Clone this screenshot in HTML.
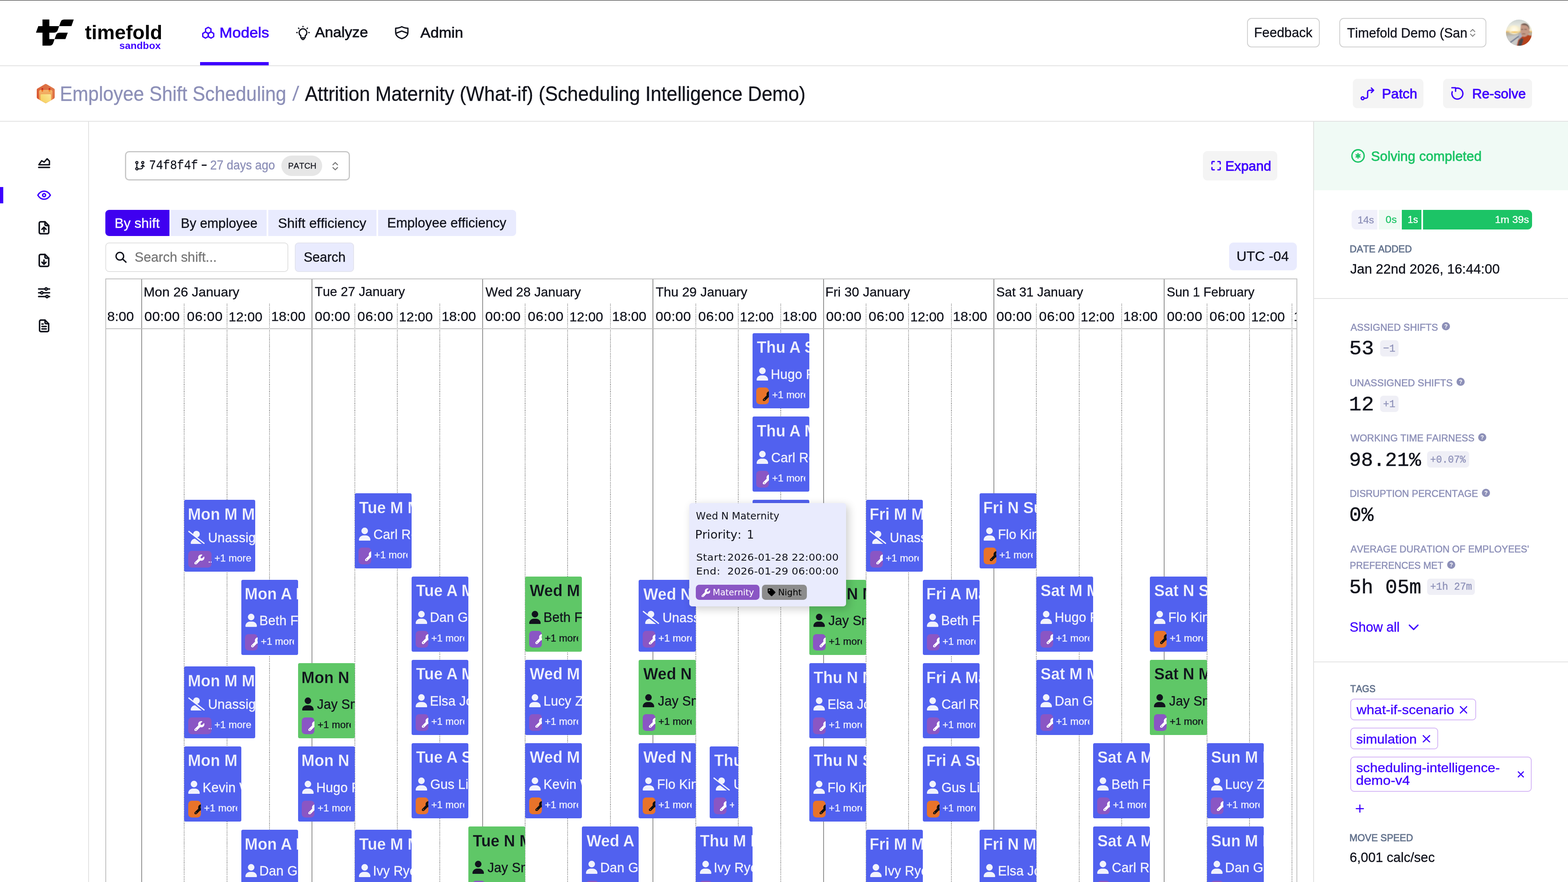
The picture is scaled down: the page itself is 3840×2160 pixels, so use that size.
<!DOCTYPE html>
<html lang="en"><head><meta charset="utf-8"><title>Timefold - Employee Shift Scheduling</title><style>
html,body{margin:0;padding:0}
html{width:3840px;height:2160px;overflow:hidden;background:#fff}
body{width:3840px;height:2160px;overflow:hidden;background:#fff;position:relative;font-family:"Liberation Sans",sans-serif;color:#111}
.b{position:absolute;display:block}
.t{position:absolute;white-space:pre;line-height:1;font-kerning:none}
.nw{font-kerning:normal}
.dot{background:repeating-linear-gradient(to bottom,#8a8a8a 0,#8a8a8a 2.13px,transparent 2.13px,transparent 4.27px)}
</style></head><body>
<div id="root" class="b" style="left:0;top:0;width:3840px;height:2160px;overflow:hidden">
<div class="b" style="left:0px;top:0px;width:3840px;height:1px;background:#000;"></div>
<div class="b" style="left:0px;top:160px;width:3840px;height:2px;background:#e2e2e2;"></div>
<div class="b" style="left:0px;top:296px;width:3840px;height:2px;background:#e2e2e2;"></div>
<div class="b" style="left:216px;top:298px;width:2px;height:1862px;background:#e2e2e2;"></div>
<div class="b" style="left:3216px;top:298px;width:2px;height:1862px;background:#e0e0e0;"></div>
<svg class="b" style="left:0px;top:0px;fill:#000" width="420" height="160" viewBox="0 0 420 160"><path d="M104.05 47.8H120.8V63.9H144.84L141.6 73.2Q139.3 79.9 132.6 79.9H120.8V95.73H133.75L130.3 105.4Q128.1 111.84 121.6 111.84H104.05V79.9H88.08L93.76 63.9H104.05Z"/><path d="M144.84 63.9L148.3 54.2Q150.6 47.8 157.2 47.8H180.6L174.9 63.9Z"/><path d="M133.75 95.73L137.1 86.2Q139.4 79.9 146 79.9H166L160.2 95.73Z"/></svg>
<div class="t" style="left:208.01px;top:54.56px;font-size:48.6px;font-weight:700;color:#000;letter-spacing:0.06px;">timefold</div>
<div class="t" style="left:292.14px;top:99.98px;font-size:24.6px;font-weight:700;color:#3e00ff;letter-spacing:0.08px;">sandbox</div>
<div class="b" style="left:490px;top:152px;width:168px;height:8px;background:#3e00ff;"></div>
<svg class="b" style="left:0px;top:0px;" width="1200" height="160" viewBox="0 0 1200 160"><g fill="none" stroke="#3e00ff" stroke-width="3.2" stroke-linejoin="round"><path d="M510 66.8l6.6 3.8v7.6l-6.6 3.8-6.6-3.8v-7.6z"/><path d="M503.2 79.2l6.6 3.8v7.6l-6.6 3.8-6.6-3.8v-7.6z" transform="translate(0,-1)"/><path d="M516.8 79.2l6.6 3.8v7.6l-6.6 3.8-6.6-3.8v-7.6z" transform="translate(0,-1)"/></g></svg>
<div class="t" style="left:537.61px;top:60.51px;font-size:37.68px;color:#3e00ff;-webkit-text-stroke:1px #3e00ff;transform:scaleY(0.954);transform-origin:0 84.65%;">Models</div>
<svg class="b" style="left:0px;top:0px;" width="1200" height="160" viewBox="0 0 1200 160"><g fill="none" stroke="#11131c" stroke-width="3" stroke-linecap="round" stroke-linejoin="round"><path d="M736.6 87.6a9.4 9.4 0 1 1 10.8 0v3.6a1.6 1.6 0 0 1-1.6 1.6h-7.6a1.6 1.6 0 0 1-1.6-1.6z"/><path d="M738.8 93.2v.6a3.2 3.2 0 0 0 6.4 0v-.6"/><path d="M742 64.4v1.2M731 68.8l1 1M753 68.8l-1 1M726.6 79.8h1.4M756 79.8h1.4"/></g></svg>
<div class="t" style="left:771.13px;top:61.42px;font-size:36.6px;color:#11131c;-webkit-text-stroke:0.9px #11131c;transform:scaleY(0.983);transform-origin:0 84.65%;">Analyze</div>
<svg class="b" style="left:0px;top:0px;" width="1200" height="160" viewBox="0 0 1200 160"><g fill="none" stroke="#11131c" stroke-width="3.2" stroke-linejoin="round" stroke-linecap="round"><path d="M984 65.4c4.6 2.6 9.6 3.6 15 3.8v9.600c0 8-5.800 13.200-15 15.800-9.200-2.600-15-7.800-15-15.800v-9.600c5.400-.2 10.400-1.200 15-3.800z"/><path d="M969.600 81.600l14.400-5.600 14.400 5.600"/></g></svg>
<div class="t" style="left:1029.53px;top:61.08px;font-size:37px;color:#11131c;-webkit-text-stroke:0.9px #11131c;transform:scaleY(0.972);transform-origin:0 84.65%;">Admin</div>
<div class="b" style="left:3054px;top:44px;width:178px;height:72px;background:#fff;border:2px solid #cfcfcf;border-radius:11px;box-sizing:border-box;"></div>
<div class="t" style="left:3071.23px;top:64.47px;font-size:32.52px;color:#11131c;-webkit-text-stroke:0.4px #11131c;transform:scaleY(1.037);transform-origin:0 84.65%;">Feedback</div>
<div class="b" style="left:3280px;top:44px;width:360px;height:72px;background:#fff;border:2px solid #cfcfcf;border-radius:11px;box-sizing:border-box;"></div>
<div class="t" style="left:3298.88px;top:64.79px;font-size:32.15px;color:#11131c;-webkit-text-stroke:0.4px #11131c;transform:scaleY(1.049);transform-origin:0 84.65%;">Timefold Demo (San</div>
<svg class="b" style="left:3597px;top:68.4px;" width="19" height="25" viewBox="0 0 22 30"><path d="M4.600 11.400l6.400-6.400 6.400 6.400M4.600 18.600l6.400 6.400 6.400-6.400" fill="none" stroke="#858585" stroke-width="2.800" stroke-linecap="round" stroke-linejoin="round"/></svg>
<svg class="b" style="left:3688.1px;top:47.8px;" width="64" height="64.2" viewBox="0 0 64 64"><defs><clipPath id="avc"><circle cx="32" cy="32" r="32"/></clipPath><linearGradient id="avs" x1="0" y1="0" x2="0" y2="1"><stop offset="0" stop-color="#c4cccc"/><stop offset=".25" stop-color="#e6e8e0"/><stop offset=".42" stop-color="#f4ecd0"/><stop offset=".47" stop-color="#e9b458"/><stop offset=".5" stop-color="#b9b09a"/><stop offset=".7" stop-color="#bcb9ae"/><stop offset="1" stop-color="#c9cdd2"/></linearGradient><radialGradient id="avn" cx="20" cy="25" r="17" gradientUnits="userSpaceOnUse"><stop offset="0" stop-color="#fffdf2"/><stop offset=".5" stop-color="#fff6d6" stop-opacity=".9"/><stop offset="1" stop-color="#f6e6b0" stop-opacity="0"/></radialGradient><filter id="avb" x="-10%" y="-10%" width="120%" height="120%"><feGaussianBlur stdDeviation="0.9"/></filter></defs><g clip-path="url(#avc)"><g filter="url(#avb)"><rect x="-4" y="-4" width="72" height="72" fill="url(#avs)"/><ellipse cx="20" cy="25" rx="17" ry="11" fill="url(#avn)"/><ellipse cx="21" cy="30.500" rx="9" ry="1.800" fill="#f3c048"/><path d="M0 40l30-4v30H0z" fill="#c9c9c6"/><path d="M2 42l26-5" stroke="#b4b8bc" stroke-width="1.500"/><path d="M10 56.500L33 39.500" stroke="#2c3f74" stroke-width="2"/><path d="M31 38l5-6 6 2v10l-10 3z" fill="#a9b1c4"/><path d="M26 66l4-16 10-9 12-4 14 3v26z" fill="#b5431f"/><path d="M29 66l3-14 6-7 5 3-2 8-4 10z" fill="#4b4a48"/><path d="M36.500 12c3-3.500 10-4.500 15-1.500 4.500 2.800 6.500 8 6 14l-1.500 7c-1 5-4.500 9.500-10 10.500-5 .5-8.500-3-9.500-8-.8-4-1-8-.8-11.500.2-4 .8-7.500.800-10.500z" fill="#c59a86"/><path d="M36.500 13c3-4 10-5 15-2 4.500 2.800 6.800 8 6.200 14-2-5-4-9-8-10.500-4.500-1.500-9-1-13.200-1.500z" fill="#6f5c52"/><path d="M36.800 24.500c2-1 4-1 5.500-.2M45 24.300c2-1 4.500-.8 6 .2" stroke="#4a3a34" stroke-width="1.300" fill="none"/><path d="M39.500 35.500c2.500-1.200 5.500-1.200 8 0" stroke="#7a5a4c" stroke-width="1.600" fill="none"/><path d="M56 27c2-.5 3 1.500 2.500 4-.5 2-1.500 3-2.800 3z" fill="#c08f7c"/></g></g></svg>
<svg class="b" style="left:90px;top:204.9px;" width="44" height="48.1" viewBox="0 0 44 47.900"><defs><linearGradient id="hg" x1="1" y1="0" x2="0" y2="1"><stop offset="0" stop-color="#e07e4e"/><stop offset=".5" stop-color="#dc6a40"/><stop offset="1" stop-color="#d74a26"/></linearGradient><linearGradient id="hc" x1="0" y1="0" x2="0" y2="1"><stop offset="0" stop-color="#f4b86c"/><stop offset=".35" stop-color="#f0a058"/><stop offset="1" stop-color="#ef8840"/></linearGradient><linearGradient id="hp" x1="1" y1="0" x2="0" y2="1"><stop offset="0" stop-color="#fbe896"/><stop offset="1" stop-color="#f4c84e"/></linearGradient><clipPath id="hx"><path d="M20.200 1a3.600 3.600 0 0 1 3.600 0l18.400 10.700a3.600 3.600 0 0 1 1.800 3.100v18.400a3.600 3.600 0 0 1-1.800 3.100l-18.400 10.700a3.600 3.600 0 0 1-3.600 0l-18.400-10.700a3.600 3.600 0 0 1-1.800-3.100v-18.400a3.600 3.600 0 0 1 1.800-3.100z"/></clipPath></defs><path d="M20.200 1a3.600 3.600 0 0 1 3.600 0l18.400 10.700a3.600 3.600 0 0 1 1.800 3.100v18.400a3.600 3.600 0 0 1-1.800 3.100l-18.400 10.700a3.600 3.600 0 0 1-3.600 0l-18.400-10.700a3.600 3.600 0 0 1-1.800-3.100v-18.400a3.600 3.600 0 0 1 1.800-3.100z" fill="url(#hg)"/><g clip-path="url(#hx)"><rect x="5.500" y="15.100" width="32.900" height="40" rx="4.200" fill="url(#hc)"/><rect x="9.300" y="25.600" width="25.600" height="30" rx="2.200" fill="url(#hp)"/></g><path d="M11.600 15.100v-2.600a2.100 2.100 0 0 1 4.200 0v2.600zM29.100 15.100v-2.600a2.100 2.100 0 0 1 4.200 0v2.600z" fill="#c82d1c"/><path d="M11.600 15.100v2.400a2.100 2.100 0 0 0 4.200 0v-2.400z" fill="#f2701f"/><path d="M29.100 15.100v2.400a2.100 2.100 0 0 0 4.200 0v-2.400z" fill="#f28a22"/></svg>
<div class="t" style="left:146.49px;top:207.91px;font-size:46.42px;color:#8d90b8;-webkit-text-stroke:0.4px #8d90b8;transform:scaleY(1.065);transform-origin:0 84.65%;">Employee Shift Scheduling</div>
<div class="t" style="left:715.8px;top:207.47px;font-size:46.93px;color:#8d90b8;-webkit-text-stroke:0.4px #8d90b8;transform:scaleY(1.054);transform-origin:0 84.65%;transform:scaleY(1.05) skewX(-6deg);">/</div>
<div class="t" style="left:746.71px;top:207.38px;font-size:47.04px;color:#11131c;-webkit-text-stroke:0.4px #11131c;transform:scaleY(1.051);transform-origin:0 84.65%;">Attrition Maternity (What-if) (Scheduling Intelligence Demo)</div>
<div class="b" style="left:3313.3px;top:192.8px;width:172.6px;height:72.1px;background:#f4f4f4;border-radius:11px;"></div>
<svg class="b" style="left:3330px;top:210px;" width="40" height="40" viewBox="0 0 40 40"><g fill="none" stroke="#3e00ff" stroke-width="3.300" stroke-linecap="round" stroke-linejoin="round"><circle cx="7.100" cy="30.600" r="3.500"/><path d="M10.800 30.600h4.200a4.300 4.300 0 0 0 4.300-4.300v-10.900a4.300 4.300 0 0 1 4.300-4.300h9.500"/><path d="M28.400 5.600l5.600 5.500-5.600 5.500"/></g></svg>
<div class="t" style="left:3384.22px;top:212.91px;font-size:33.9px;color:#3e00ff;-webkit-text-stroke:1px #3e00ff;transform:scaleY(0.995);transform-origin:0 84.65%;">Patch</div>
<div class="b" style="left:3533.9px;top:192.8px;width:218px;height:72.1px;background:#f4f4f4;border-radius:11px;"></div>
<svg class="b" style="left:3552px;top:211px;" width="36" height="36" viewBox="0 0 36 36"><g fill="none" stroke="#3e00ff" stroke-width="3.300" stroke-linecap="round" stroke-linejoin="round"><path d="M12.600 5.600a13.400 13.400 0 1 1-8.100 8.100"/><path d="M3.600 3.900h9.100v8.600"/></g></svg>
<div class="t" style="left:3605.27px;top:213.41px;font-size:33.3px;color:#3e00ff;-webkit-text-stroke:1px #3e00ff;transform:scaleY(1.012);transform-origin:0 84.65%;">Re-solve</div>
<div class="b" style="left:0px;top:458px;width:8px;height:40px;background:#3e00ff;"></div>
<svg class="b" style="left:91px;top:381.6px;" width="34" height="34" viewBox="0 0 24 24"><g fill="none" stroke="#11131c" stroke-width="2.400" stroke-linecap="round" stroke-linejoin="round"><path d="M3 15.200L7.800 8.200l4.200 2.400L17.200 4.800l4 4v6.400z"/><path d="M2.600 19.800h18.800"/></g></svg>
<svg class="b" style="left:91px;top:461px;" width="34" height="34" viewBox="0 0 24 24"><g fill="none" stroke="#3e00ff" stroke-width="2.400" stroke-linecap="round" stroke-linejoin="round"><path d="M1.200 12C3.800 7.400 7.600 5 12 5s8.200 2.400 10.800 7C20.200 16.600 16.400 19 12 19S3.800 16.600 1.200 12z"/><circle cx="12" cy="12" r="2.600"/></g></svg>
<svg class="b" style="left:89.25px;top:538.95px;" width="37.5" height="37.5" viewBox="0 0 24 24"><g fill="none" stroke="#11131c" stroke-width="2.400" stroke-linecap="round" stroke-linejoin="round"><path d="M13.500 2.600H6.800a2.200 2.200 0 0 0-2.200 2.200v14.400a2.200 2.200 0 0 0 2.200 2.200h10.400a2.200 2.200 0 0 0 2.200-2.200V8.500z"/><path d="M13.500 2.600v4.200a1.700 1.700 0 0 0 1.700 1.700h4.200"/><path d="M12 18v-6.500M8.800 14.400l3.200-3.200 3.200 3.200"/></g></svg>
<svg class="b" style="left:89.25px;top:619.25px;" width="37.5" height="37.5" viewBox="0 0 24 24"><g fill="none" stroke="#11131c" stroke-width="2.400" stroke-linecap="round" stroke-linejoin="round"><path d="M13.500 2.600H6.800a2.200 2.200 0 0 0-2.200 2.200v14.400a2.200 2.200 0 0 0 2.200 2.200h10.400a2.200 2.200 0 0 0 2.200-2.200V8.500z"/><path d="M13.500 2.600v4.200a1.700 1.700 0 0 0 1.700 1.700h4.200"/><path d="M12 11.500V18M8.800 14.800l3.200 3.200 3.200-3.200"/></g></svg>
<svg class="b" style="left:91px;top:700px;" width="34" height="34" viewBox="0 0 24 24"><g fill="none" stroke="#11131c" stroke-width="2.400" stroke-linecap="round" stroke-linejoin="round"><path d="M2.500 5.500h19M2.500 12h19M2.500 18.500h19"/><circle cx="15.500" cy="5.500" r="2" fill="#fff"/><circle cx="8" cy="12" r="2" fill="#fff"/><circle cx="17" cy="18.500" r="2" fill="#fff"/></g></svg>
<svg class="b" style="left:90px;top:780px;" width="36" height="36" viewBox="0 0 24 24"><g fill="none" stroke="#11131c" stroke-width="2.400" stroke-linecap="round" stroke-linejoin="round"><path d="M13.500 2.600H6.800a2.200 2.200 0 0 0-2.200 2.200v14.400a2.200 2.200 0 0 0 2.200 2.200h10.400a2.200 2.200 0 0 0 2.200-2.200V8.500z"/><path d="M13.500 2.600v4.200a1.700 1.700 0 0 0 1.700 1.700h4.200"/><path d="M8.500 9h2M8.500 13h7M8.500 17h7"/></g></svg>
<div class="b" style="left:306.3px;top:370.3px;width:550.3px;height:71.6px;background:#fff;border:3.700px solid #c8c8c8;border-radius:10px;box-sizing:border-box;"></div>
<svg class="b" style="left:330px;top:393.3px;" width="25.5" height="25.5" viewBox="0 0 28 28"><g fill="none" stroke="#11131c" stroke-width="2.800" stroke-linecap="round" stroke-linejoin="round"><circle cx="5.600" cy="5.600" r="2.900"/><circle cx="5.600" cy="22.400" r="2.900"/><circle cx="21.500" cy="5.600" r="2.900"/><path d="M5.600 8.500v11M8.500 22.400h8.500a4.500 4.500 0 0 0 4.500-4.500v-5M17.500 16l4-4 4 4"/></g></svg>
<div class="t" style="left:365px;top:392.6px;font-size:28.57px;font-family:'Liberation Mono',monospace;color:#11131c;-webkit-text-stroke:0.3px #11131c;transform:scaleY(1.074);transform-origin:0 76.65%;">74f8f4f</div>
<div class="b" style="left:494.4px;top:403.4px;width:11.2px;height:3px;background:#11131c;"></div>
<div class="t" style="left:514.84px;top:390.55px;font-size:29.12px;color:#8d90b8;-webkit-text-stroke:0.4px #8d90b8;transform:scaleY(1.081);transform-origin:0 84.65%;">27 days ago</div>
<div class="b" style="left:689px;top:381.4px;width:99.8px;height:49.3px;background:#e6e6e6;border-radius:25px;"></div>
<div class="t" style="left:705.53px;top:395.73px;font-size:20.4px;color:#11131c;-webkit-text-stroke:0.3px #11131c;transform:scaleY(1.023);transform-origin:0 84.65%;">PATCH</div>
<svg class="b" style="left:811px;top:393.5px;" width="20" height="26.5" viewBox="0 0 22 30"><path d="M4.600 11l6.400-6.400 6.400 6.400M4.600 18.400l6.400 6.400 6.400-6.400" fill="none" stroke="#777" stroke-width="2.800" stroke-linecap="round" stroke-linejoin="round"/></svg>
<div class="b" style="left:2946.1px;top:370.3px;width:181.9px;height:71.6px;background:#f4f4f4;border-radius:11px;"></div>
<svg class="b" style="left:2965.7px;top:394.2px;" width="24.3" height="23.6" viewBox="0 0 24 24"><path d="M1.700 7.500v-3.500a2.300 2.300 0 0 1 2.300-2.300h3.500M16.500 1.700h3.500a2.300 2.300 0 0 1 2.300 2.300v3.500M22.300 16.500v3.500a2.300 2.300 0 0 1-2.300 2.300h-3.500M7.500 22.300h-3.500a2.300 2.300 0 0 1-2.300-2.300v-3.500" fill="none" stroke="#3e00ff" stroke-width="3.200" stroke-linecap="round"/></svg>
<div class="t" style="left:3000.78px;top:390.16px;font-size:33.13px;color:#3e00ff;-webkit-text-stroke:1px #3e00ff;transform:scaleY(1.018);transform-origin:0 84.65%;">Expand</div>
<div class="b" style="left:257.9px;top:513.9px;width:157px;height:64.1px;background:#3f00f0;border-radius:9px 0 0 9px;"></div>
<div class="t" style="left:280.43px;top:529.54px;font-size:33.74px;color:#fff;-webkit-text-stroke:0.4px #fff;">By shift</div>
<div class="b" style="left:418.9px;top:513.9px;width:234px;height:64.1px;background:#e9ebfe;"></div>
<div class="t" style="left:442.73px;top:530.57px;font-size:32.52px;color:#11131c;-webkit-text-stroke:0.4px #11131c;transform:scaleY(1.037);transform-origin:0 84.65%;">By employee</div>
<div class="b" style="left:656.9px;top:513.9px;width:265.1px;height:64.1px;background:#e9ebfe;"></div>
<div class="t" style="left:680.68px;top:529.68px;font-size:33.58px;color:#11131c;-webkit-text-stroke:0.4px #11131c;transform:scaleY(1.004);transform-origin:0 84.65%;">Shift efficiency</div>
<div class="b" style="left:926.2px;top:513.9px;width:337.9px;height:64.1px;background:#e9ebfe;border-radius:0 9px 9px 0;"></div>
<div class="t" style="left:948.31px;top:530.33px;font-size:32.81px;color:#11131c;-webkit-text-stroke:0.4px #11131c;transform:scaleY(1.028);transform-origin:0 84.65%;">Employee efficiency</div>
<div class="b" style="left:258px;top:594px;width:447.5px;height:72px;background:#fff;border:2px solid #e1e1e1;border-radius:9px;box-sizing:border-box;"></div>
<svg class="b" style="left:282px;top:616px;" width="29" height="28" viewBox="0 0 29 28"><g fill="none" stroke="#11131c" stroke-width="3.200" stroke-linecap="round"><circle cx="11.500" cy="11.500" r="9.300"/><path d="M18.500 18.500l8 7.500"/></g></svg>
<div class="t" style="left:329.7px;top:614.03px;font-size:32.93px;color:#777;-webkit-text-stroke:0.4px #777;transform:scaleY(1.024);transform-origin:0 84.65%;">Search shift...</div>
<div class="b" style="left:722px;top:594px;width:145px;height:72px;background:#e9ebfe;border:2px solid #e3e4ee;border-radius:9px;box-sizing:border-box;"></div>
<div class="t" style="left:743.63px;top:614.47px;font-size:32.41px;color:#11131c;-webkit-text-stroke:0.4px #11131c;transform:scaleY(1.04);transform-origin:0 84.65%;">Search</div>
<div class="b" style="left:3009.9px;top:593.9px;width:166.2px;height:67.8px;background:#e9ebfe;border-radius:11px;"></div>
<div class="t" style="left:3028.18px;top:611.4px;font-size:33.91px;color:#11131c;-webkit-text-stroke:0.4px #11131c;transform:scaleY(0.994);transform-origin:0 84.65%;">UTC -04</div>
<div class="b" style="left:258.4px;top:681.9px;width:2918.2px;height:1478.1px;background:#fff;border:2px solid #bfbfbf;box-sizing:border-box;overflow:hidden;border-bottom:0;"><div class="b" style="left:-1px;top:-1px"><div class="b" style="left:86.7px;top:0px;width:2px;height:1480px;background:#8e8e8e;"></div><div class="b dot" style="left:191.04px;top:61.6px;width:2px;height:1420px;"></div><div class="b dot" style="left:295.38px;top:61.6px;width:2px;height:1420px;"></div><div class="b dot" style="left:399.72px;top:61.6px;width:2px;height:1420px;"></div><div class="b" style="left:504.06px;top:0px;width:2px;height:1480px;background:#8e8e8e;"></div><div class="b dot" style="left:608.4px;top:61.6px;width:2px;height:1420px;"></div><div class="b dot" style="left:712.74px;top:61.6px;width:2px;height:1420px;"></div><div class="b dot" style="left:817.08px;top:61.6px;width:2px;height:1420px;"></div><div class="b" style="left:921.42px;top:0px;width:2px;height:1480px;background:#8e8e8e;"></div><div class="b dot" style="left:1025.76px;top:61.6px;width:2px;height:1420px;"></div><div class="b dot" style="left:1130.1px;top:61.6px;width:2px;height:1420px;"></div><div class="b dot" style="left:1234.44px;top:61.6px;width:2px;height:1420px;"></div><div class="b" style="left:1338.78px;top:0px;width:2px;height:1480px;background:#8e8e8e;"></div><div class="b dot" style="left:1443.12px;top:61.6px;width:2px;height:1420px;"></div><div class="b dot" style="left:1547.46px;top:61.6px;width:2px;height:1420px;"></div><div class="b dot" style="left:1651.8px;top:61.6px;width:2px;height:1420px;"></div><div class="b" style="left:1756.14px;top:0px;width:2px;height:1480px;background:#8e8e8e;"></div><div class="b dot" style="left:1860.48px;top:61.6px;width:2px;height:1420px;"></div><div class="b dot" style="left:1964.82px;top:61.6px;width:2px;height:1420px;"></div><div class="b dot" style="left:2069.16px;top:61.6px;width:2px;height:1420px;"></div><div class="b" style="left:2173.5px;top:0px;width:2px;height:1480px;background:#8e8e8e;"></div><div class="b dot" style="left:2277.84px;top:61.6px;width:2px;height:1420px;"></div><div class="b dot" style="left:2382.18px;top:61.6px;width:2px;height:1420px;"></div><div class="b dot" style="left:2486.52px;top:61.6px;width:2px;height:1420px;"></div><div class="b" style="left:2590.86px;top:0px;width:2px;height:1480px;background:#8e8e8e;"></div><div class="b dot" style="left:2695.2px;top:61.6px;width:2px;height:1420px;"></div><div class="b dot" style="left:2799.54px;top:61.6px;width:2px;height:1420px;"></div><div class="b dot" style="left:2903.88px;top:61.6px;width:2px;height:1420px;"></div><div class="b" style="left:0px;top:120.7px;width:2920px;height:2px;background:#bfbfbf;"></div><div class="b" style="left:4.2px;top:67.1px;width:110px;height:50px;overflow:hidden;"><div class="t" style="left:-19.91px;top:8.29px;font-size:33.68px;color:#11131c;-webkit-text-stroke:0.4px #11131c;transform:scaleY(0.934);transform-origin:0 84.65%;">18:00</div></div><div class="t" style="left:92.32px;top:15.71px;font-size:32.71px;color:#11131c;-webkit-text-stroke:0.4px #11131c;transform:scaleY(0.962);transform-origin:0 84.65%;">Mon 26 January</div><div class="t" style="left:94.08px;top:75.25px;font-size:33.84px;color:#11131c;letter-spacing:0.49px;-webkit-text-stroke:0.4px #11131c;transform:scaleY(0.93);transform-origin:0 84.65%;">00:00</div><div class="t" style="left:198.42px;top:75.25px;font-size:33.84px;color:#11131c;letter-spacing:0.66px;-webkit-text-stroke:0.4px #11131c;transform:scaleY(0.93);transform-origin:0 84.65%;">06:00</div><div class="t" style="left:300.36px;top:75.89px;font-size:33.09px;color:#11131c;-webkit-text-stroke:0.4px #11131c;transform:scaleY(0.951);transform-origin:0 84.65%;">12:00</div><div class="t" style="left:404.65px;top:75.39px;font-size:33.68px;color:#11131c;-webkit-text-stroke:0.4px #11131c;transform:scaleY(0.934);transform-origin:0 84.65%;">18:00</div><div class="t" style="left:511.65px;top:16.53px;font-size:31.74px;color:#11131c;-webkit-text-stroke:0.4px #11131c;transform:scaleY(0.991);transform-origin:0 84.65%;">Tue 27 January</div><div class="t" style="left:511.44px;top:75.25px;font-size:33.84px;color:#11131c;letter-spacing:0.49px;-webkit-text-stroke:0.4px #11131c;transform:scaleY(0.93);transform-origin:0 84.65%;">00:00</div><div class="t" style="left:615.78px;top:75.25px;font-size:33.84px;color:#11131c;letter-spacing:0.66px;-webkit-text-stroke:0.4px #11131c;transform:scaleY(0.93);transform-origin:0 84.65%;">06:00</div><div class="t" style="left:717.72px;top:75.89px;font-size:33.09px;color:#11131c;-webkit-text-stroke:0.4px #11131c;transform:scaleY(0.951);transform-origin:0 84.65%;">12:00</div><div class="t" style="left:822.01px;top:75.39px;font-size:33.68px;color:#11131c;-webkit-text-stroke:0.4px #11131c;transform:scaleY(0.934);transform-origin:0 84.65%;">18:00</div><div class="t" style="left:929.58px;top:16.23px;font-size:32.09px;color:#11131c;-webkit-text-stroke:0.4px #11131c;transform:scaleY(0.981);transform-origin:0 84.65%;">Wed 28 January</div><div class="t" style="left:928.8px;top:75.25px;font-size:33.84px;color:#11131c;letter-spacing:0.49px;-webkit-text-stroke:0.4px #11131c;transform:scaleY(0.93);transform-origin:0 84.65%;">00:00</div><div class="t" style="left:1033.14px;top:75.25px;font-size:33.84px;color:#11131c;letter-spacing:0.66px;-webkit-text-stroke:0.4px #11131c;transform:scaleY(0.93);transform-origin:0 84.65%;">06:00</div><div class="t" style="left:1135.08px;top:75.89px;font-size:33.09px;color:#11131c;-webkit-text-stroke:0.4px #11131c;transform:scaleY(0.951);transform-origin:0 84.65%;">12:00</div><div class="t" style="left:1239.37px;top:75.39px;font-size:33.68px;color:#11131c;-webkit-text-stroke:0.4px #11131c;transform:scaleY(0.934);transform-origin:0 84.65%;">18:00</div><div class="t" style="left:1346.35px;top:16.04px;font-size:32.32px;color:#11131c;-webkit-text-stroke:0.4px #11131c;transform:scaleY(0.974);transform-origin:0 84.65%;">Thu 29 January</div><div class="t" style="left:1346.16px;top:75.25px;font-size:33.84px;color:#11131c;letter-spacing:0.49px;-webkit-text-stroke:0.4px #11131c;transform:scaleY(0.93);transform-origin:0 84.65%;">00:00</div><div class="t" style="left:1450.5px;top:75.25px;font-size:33.84px;color:#11131c;letter-spacing:0.66px;-webkit-text-stroke:0.4px #11131c;transform:scaleY(0.93);transform-origin:0 84.65%;">06:00</div><div class="t" style="left:1552.44px;top:75.89px;font-size:33.09px;color:#11131c;-webkit-text-stroke:0.4px #11131c;transform:scaleY(0.951);transform-origin:0 84.65%;">12:00</div><div class="t" style="left:1656.73px;top:75.39px;font-size:33.68px;color:#11131c;-webkit-text-stroke:0.4px #11131c;transform:scaleY(0.934);transform-origin:0 84.65%;">18:00</div><div class="t" style="left:1761.78px;top:15.9px;font-size:32.48px;color:#11131c;-webkit-text-stroke:0.4px #11131c;transform:scaleY(0.969);transform-origin:0 84.65%;">Fri 30 January</div><div class="t" style="left:1763.52px;top:75.25px;font-size:33.84px;color:#11131c;letter-spacing:0.49px;-webkit-text-stroke:0.4px #11131c;transform:scaleY(0.93);transform-origin:0 84.65%;">00:00</div><div class="t" style="left:1867.86px;top:75.25px;font-size:33.84px;color:#11131c;letter-spacing:0.66px;-webkit-text-stroke:0.4px #11131c;transform:scaleY(0.93);transform-origin:0 84.65%;">06:00</div><div class="t" style="left:1969.8px;top:75.89px;font-size:33.09px;color:#11131c;-webkit-text-stroke:0.4px #11131c;transform:scaleY(0.951);transform-origin:0 84.65%;">12:00</div><div class="t" style="left:2074.09px;top:75.39px;font-size:33.68px;color:#11131c;-webkit-text-stroke:0.4px #11131c;transform:scaleY(0.934);transform-origin:0 84.65%;">18:00</div><div class="t" style="left:2180.36px;top:16.62px;font-size:31.64px;color:#11131c;-webkit-text-stroke:0.4px #11131c;transform:scaleY(0.995);transform-origin:0 84.65%;">Sat 31 January</div><div class="t" style="left:2180.88px;top:75.25px;font-size:33.84px;color:#11131c;letter-spacing:0.49px;-webkit-text-stroke:0.4px #11131c;transform:scaleY(0.93);transform-origin:0 84.65%;">00:00</div><div class="t" style="left:2285.22px;top:75.25px;font-size:33.84px;color:#11131c;letter-spacing:0.66px;-webkit-text-stroke:0.4px #11131c;transform:scaleY(0.93);transform-origin:0 84.65%;">06:00</div><div class="t" style="left:2387.16px;top:75.89px;font-size:33.09px;color:#11131c;-webkit-text-stroke:0.4px #11131c;transform:scaleY(0.951);transform-origin:0 84.65%;">12:00</div><div class="t" style="left:2491.45px;top:75.39px;font-size:33.68px;color:#11131c;-webkit-text-stroke:0.4px #11131c;transform:scaleY(0.934);transform-origin:0 84.65%;">18:00</div><div class="t" style="left:2597.74px;top:17px;font-size:31.19px;color:#11131c;-webkit-text-stroke:0.4px #11131c;transform:scaleY(1.009);transform-origin:0 84.65%;">Sun 1 February</div><div class="t" style="left:2598.24px;top:75.25px;font-size:33.84px;color:#11131c;letter-spacing:0.49px;-webkit-text-stroke:0.4px #11131c;transform:scaleY(0.93);transform-origin:0 84.65%;">00:00</div><div class="t" style="left:2702.58px;top:75.25px;font-size:33.84px;color:#11131c;letter-spacing:0.66px;-webkit-text-stroke:0.4px #11131c;transform:scaleY(0.93);transform-origin:0 84.65%;">06:00</div><div class="t" style="left:2804.52px;top:75.89px;font-size:33.09px;color:#11131c;-webkit-text-stroke:0.4px #11131c;transform:scaleY(0.951);transform-origin:0 84.65%;">12:00</div><div class="t" style="left:2908.81px;top:75.39px;font-size:33.68px;color:#11131c;-webkit-text-stroke:0.4px #11131c;transform:scaleY(0.934);transform-origin:0 84.65%;">18:00</div><div class="b" style="left:192.04px;top:541.4px;width:173.9px;height:176px;background:#5161ef;border-radius:4px;overflow:hidden;"><div class="t nw" style="left:8.63px;top:16.49px;font-size:38.4px;font-weight:700;color:#f1f2fc;-webkit-text-stroke:0.35px #5161ef;transform:scaleY(1.054);transform-origin:0 84.65%;">Mon M Maternity</div><svg class="b" style="left:9.2px;top:75.6px;fill:#f1f2fc" width="40.4" height="32.3" viewBox="0 0 640 512"><path d="M38.8 5.1C28.4-3.1 13.3-1.2 5.1 9.2S-1.2 34.7 9.2 42.9l592 464c10.4 8.2 25.5 6.3 33.7-4.1s6.3-25.5-4.1-33.7L353.3 251.6C407.9 237 448 187.2 448 128C448 57.3 390.7 0 320 0C250.2 0 193.5 55.8 192 125.2L38.8 5.1zM264.3 304.3C170.5 309.4 96 387.2 96 482.3c0 16.4 13.3 29.7 29.7 29.7H514.3c3.9 0 7.6-.7 11-2.1l-261-205.6z"/></svg><div class="t nw" style="left:58.13px;top:76.71px;font-size:32px;color:#f1f2fc;letter-spacing:0.2px;-webkit-text-stroke:0.4px #f1f2fc;transform:scaleY(1.054);transform-origin:0 84.65%;">Unassigned</div><div class="b" style="left:9.7px;top:124.9px;width:154.5px;height:41px;overflow:hidden;"><div class="b" style="left:0px;top:0px;width:56.5px;height:40.8px;background:#8a56c4;border-radius:8.5px;overflow:hidden;"><svg class="b" style="left:15.2px;top:8.7px;fill:#fff" width="24.6" height="24.5" viewBox="0 0 512 512"><path d="M352 320c88.4 0 160-71.6 160-160c0-15.3-2.2-30.1-6.2-44.2c-3.1-10.8-16.4-13.2-24.3-5.3l-76.8 76.8c-3 3-7.1 4.7-11.3 4.7H336c-8.8 0-16-7.2-16-16V118.6c0-4.2 1.7-8.3 4.7-11.3l76.8-76.8c7.9-7.9 5.4-21.2-5.3-24.3C382.1 2.2 367.3 0 352 0C263.6 0 192 71.6 192 160c0 19.1 3.4 37.5 9.5 54.5L19.9 396.1C7.2 408.8 0 426.1 0 444.1C0 481.6 30.4 512 67.9 512c18 0 35.3-7.2 48-19.9L297.5 310.5c17 6.2 35.4 9.5 54.5 9.5zM80 408a24 24 0 1 1 0 48 24 24 0 1 1 0-48z"/></svg><div class="b" style="left:49.6px;top:25.7px;width:3.4px;height:3.4px;background:#fff;border-radius:2px;"></div><div class="b" style="left:55.2px;top:25.7px;width:3.4px;height:3.4px;background:#fff;border-radius:2px;"></div></div><div class="t nw" style="left:63.9px;top:6.05px;font-size:24.51px;color:#f1f2fc;-webkit-text-stroke:0.4px #f1f2fc;transform:scaleY(1.009);transform-origin:0 84.65%;">+1 more</div></div></div><div class="b" style="left:331.16px;top:736.8px;width:139.12px;height:184.2px;background:#5161ef;border-radius:4px;overflow:hidden;"><div class="t nw" style="left:8.63px;top:16.49px;font-size:38.4px;font-weight:700;color:#f1f2fc;-webkit-text-stroke:0.35px #5161ef;transform:scaleY(1.054);transform-origin:0 84.65%;">Mon A Maternity</div><svg class="b" style="left:10px;top:83.8px;fill:#f1f2fc" width="28.2" height="32.3" viewBox="0 0 448 512"><path d="M224 256A128 128 0 1 0 224 0a128 128 0 1 0 0 256zm-45.7 48C79.8 304 0 383.8 0 482.3C0 498.7 13.3 512 29.7 512H418.3c16.4 0 29.7-13.3 29.7-29.7C448 383.8 368.2 304 269.7 304H178.3z"/></svg><div class="t nw" style="left:44.77px;top:84.71px;font-size:32px;color:#f1f2fc;letter-spacing:0.2px;-webkit-text-stroke:0.4px #f1f2fc;transform:scaleY(1.054);transform-origin:0 84.65%;">Beth Fox</div><div class="b" style="left:9.7px;top:133px;width:119.72px;height:41px;overflow:hidden;"><div class="b" style="left:0px;top:0px;width:31px;height:40.8px;background:#8a56c4;border-radius:8.5px;overflow:hidden;"><svg class="b" style="left:15.2px;top:8.7px;fill:#fff" width="24.6" height="24.5" viewBox="0 0 512 512"><path d="M352 320c88.4 0 160-71.6 160-160c0-15.3-2.2-30.1-6.2-44.2c-3.1-10.8-16.4-13.2-24.3-5.3l-76.8 76.8c-3 3-7.1 4.7-11.3 4.7H336c-8.8 0-16-7.2-16-16V118.6c0-4.2 1.7-8.3 4.7-11.3l76.8-76.8c7.9-7.9 5.4-21.2-5.3-24.3C382.1 2.2 367.3 0 352 0C263.6 0 192 71.6 192 160c0 19.1 3.4 37.5 9.5 54.5L19.9 396.1C7.2 408.8 0 426.1 0 444.1C0 481.6 30.4 512 67.9 512c18 0 35.3-7.2 48-19.9L297.5 310.5c17 6.2 35.4 9.5 54.5 9.5zM80 408a24 24 0 1 1 0 48 24 24 0 1 1 0-48z"/></svg></div><div class="t nw" style="left:38.4px;top:6.05px;font-size:24.51px;color:#f1f2fc;-webkit-text-stroke:0.4px #f1f2fc;transform:scaleY(1.009);transform-origin:0 84.65%;">+1 more</div></div></div><div class="b" style="left:192.04px;top:949.4px;width:173.9px;height:176px;background:#5161ef;border-radius:4px;overflow:hidden;"><div class="t nw" style="left:8.63px;top:16.49px;font-size:38.4px;font-weight:700;color:#f1f2fc;-webkit-text-stroke:0.35px #5161ef;transform:scaleY(1.054);transform-origin:0 84.65%;">Mon M Maternity</div><svg class="b" style="left:9.2px;top:75.6px;fill:#f1f2fc" width="40.4" height="32.3" viewBox="0 0 640 512"><path d="M38.8 5.1C28.4-3.1 13.3-1.2 5.1 9.2S-1.2 34.7 9.2 42.9l592 464c10.4 8.2 25.5 6.3 33.7-4.1s6.3-25.5-4.1-33.7L353.3 251.6C407.9 237 448 187.2 448 128C448 57.3 390.7 0 320 0C250.2 0 193.5 55.8 192 125.2L38.8 5.1zM264.3 304.3C170.5 309.4 96 387.2 96 482.3c0 16.4 13.3 29.7 29.7 29.7H514.3c3.9 0 7.6-.7 11-2.1l-261-205.6z"/></svg><div class="t nw" style="left:58.13px;top:76.71px;font-size:32px;color:#f1f2fc;letter-spacing:0.2px;-webkit-text-stroke:0.4px #f1f2fc;transform:scaleY(1.054);transform-origin:0 84.65%;">Unassigned</div><div class="b" style="left:9.7px;top:124.9px;width:154.5px;height:41px;overflow:hidden;"><div class="b" style="left:0px;top:0px;width:56.5px;height:40.8px;background:#8a56c4;border-radius:8.5px;overflow:hidden;"><svg class="b" style="left:15.2px;top:8.7px;fill:#fff" width="24.6" height="24.5" viewBox="0 0 512 512"><path d="M352 320c88.4 0 160-71.6 160-160c0-15.3-2.2-30.1-6.2-44.2c-3.1-10.8-16.4-13.2-24.3-5.3l-76.8 76.8c-3 3-7.1 4.7-11.3 4.7H336c-8.8 0-16-7.2-16-16V118.6c0-4.2 1.7-8.3 4.7-11.3l76.8-76.8c7.9-7.9 5.4-21.2-5.3-24.3C382.1 2.2 367.3 0 352 0C263.6 0 192 71.6 192 160c0 19.1 3.4 37.5 9.5 54.5L19.9 396.1C7.2 408.8 0 426.1 0 444.1C0 481.6 30.4 512 67.9 512c18 0 35.3-7.2 48-19.9L297.5 310.5c17 6.2 35.4 9.5 54.5 9.5zM80 408a24 24 0 1 1 0 48 24 24 0 1 1 0-48z"/></svg><div class="b" style="left:49.6px;top:25.7px;width:3.4px;height:3.4px;background:#fff;border-radius:2px;"></div><div class="b" style="left:55.2px;top:25.7px;width:3.4px;height:3.4px;background:#fff;border-radius:2px;"></div></div><div class="t nw" style="left:63.9px;top:6.05px;font-size:24.51px;color:#f1f2fc;-webkit-text-stroke:0.4px #f1f2fc;transform:scaleY(1.009);transform-origin:0 84.65%;">+1 more</div></div></div><div class="b" style="left:470.28px;top:941.4px;width:139.12px;height:184.2px;background:#5fc767;border-radius:4px;overflow:hidden;"><div class="t nw" style="left:8.63px;top:16.49px;font-size:38.4px;font-weight:700;color:#11131c;-webkit-text-stroke:0.35px #5fc767;transform:scaleY(1.054);transform-origin:0 84.65%;">Mon N Maternity</div><svg class="b" style="left:10px;top:83.8px;fill:#11131c" width="28.2" height="32.3" viewBox="0 0 448 512"><path d="M224 256A128 128 0 1 0 224 0a128 128 0 1 0 0 256zm-45.7 48C79.8 304 0 383.8 0 482.3C0 498.7 13.3 512 29.7 512H418.3c16.4 0 29.7-13.3 29.7-29.7C448 383.8 368.2 304 269.7 304H178.3z"/></svg><div class="t nw" style="left:46.9px;top:84.71px;font-size:32px;color:#11131c;letter-spacing:0.2px;-webkit-text-stroke:0.4px #11131c;transform:scaleY(1.054);transform-origin:0 84.65%;">Jay Smith</div><div class="b" style="left:9.7px;top:133px;width:119.72px;height:41px;overflow:hidden;"><div class="b" style="left:0px;top:0px;width:31px;height:40.8px;background:#8a56c4;border-radius:8.5px;overflow:hidden;"><svg class="b" style="left:15.2px;top:8.7px;fill:#fff" width="24.6" height="24.5" viewBox="0 0 512 512"><path d="M352 320c88.4 0 160-71.6 160-160c0-15.3-2.2-30.1-6.2-44.2c-3.1-10.8-16.4-13.2-24.3-5.3l-76.8 76.8c-3 3-7.1 4.7-11.3 4.7H336c-8.8 0-16-7.2-16-16V118.6c0-4.2 1.7-8.3 4.7-11.3l76.8-76.8c7.9-7.9 5.4-21.2-5.3-24.3C382.1 2.2 367.3 0 352 0C263.6 0 192 71.6 192 160c0 19.1 3.4 37.5 9.5 54.5L19.9 396.1C7.2 408.8 0 426.1 0 444.1C0 481.6 30.4 512 67.9 512c18 0 35.3-7.2 48-19.9L297.5 310.5c17 6.2 35.4 9.5 54.5 9.5zM80 408a24 24 0 1 1 0 48 24 24 0 1 1 0-48z"/></svg></div><div class="t nw" style="left:38.4px;top:6.05px;font-size:24.51px;color:#11131c;-webkit-text-stroke:0.4px #11131c;transform:scaleY(1.009);transform-origin:0 84.65%;">+1 more</div></div></div><div class="b" style="left:192.04px;top:1145.1px;width:139.12px;height:184.2px;background:#5161ef;border-radius:4px;overflow:hidden;"><div class="t nw" style="left:8.63px;top:16.49px;font-size:38.4px;font-weight:700;color:#f1f2fc;-webkit-text-stroke:0.35px #5161ef;transform:scaleY(1.054);transform-origin:0 84.65%;">Mon M Surgery</div><svg class="b" style="left:10px;top:83.8px;fill:#f1f2fc" width="28.2" height="32.3" viewBox="0 0 448 512"><path d="M224 256A128 128 0 1 0 224 0a128 128 0 1 0 0 256zm-45.7 48C79.8 304 0 383.8 0 482.3C0 498.7 13.3 512 29.7 512H418.3c16.4 0 29.7-13.3 29.7-29.7C448 383.8 368.2 304 269.7 304H178.3z"/></svg><div class="t nw" style="left:44.77px;top:84.71px;font-size:32px;color:#f1f2fc;letter-spacing:0.2px;-webkit-text-stroke:0.4px #f1f2fc;transform:scaleY(1.054);transform-origin:0 84.65%;">Kevin Watt</div><div class="b" style="left:9.7px;top:133px;width:119.72px;height:41px;overflow:hidden;"><div class="b" style="left:0px;top:0px;width:31px;height:40.8px;background:#e8732a;border-radius:8.5px;overflow:hidden;"><svg class="b" style="left:15.2px;top:8.7px;fill:#111" width="24.6" height="24.5" viewBox="0 0 512 512"><path d="M352 320c88.4 0 160-71.6 160-160c0-15.3-2.2-30.1-6.2-44.2c-3.1-10.8-16.4-13.2-24.3-5.3l-76.8 76.8c-3 3-7.1 4.7-11.3 4.7H336c-8.8 0-16-7.2-16-16V118.6c0-4.2 1.7-8.3 4.7-11.3l76.8-76.8c7.9-7.9 5.4-21.2-5.3-24.3C382.1 2.2 367.3 0 352 0C263.6 0 192 71.6 192 160c0 19.1 3.4 37.5 9.5 54.5L19.9 396.1C7.2 408.8 0 426.1 0 444.1C0 481.6 30.4 512 67.9 512c18 0 35.3-7.2 48-19.9L297.5 310.5c17 6.2 35.4 9.5 54.5 9.5zM80 408a24 24 0 1 1 0 48 24 24 0 1 1 0-48z"/></svg></div><div class="t nw" style="left:38.4px;top:6.05px;font-size:24.51px;color:#f1f2fc;-webkit-text-stroke:0.4px #f1f2fc;transform:scaleY(1.009);transform-origin:0 84.65%;">+1 more</div></div></div><div class="b" style="left:470.28px;top:1145.1px;width:139.12px;height:184.2px;background:#5161ef;border-radius:4px;overflow:hidden;"><div class="t nw" style="left:8.63px;top:16.49px;font-size:38.4px;font-weight:700;color:#f1f2fc;-webkit-text-stroke:0.35px #5161ef;transform:scaleY(1.054);transform-origin:0 84.65%;">Mon N Maternity</div><svg class="b" style="left:10px;top:83.8px;fill:#f1f2fc" width="28.2" height="32.3" viewBox="0 0 448 512"><path d="M224 256A128 128 0 1 0 224 0a128 128 0 1 0 0 256zm-45.7 48C79.8 304 0 383.8 0 482.3C0 498.7 13.3 512 29.7 512H418.3c16.4 0 29.7-13.3 29.7-29.7C448 383.8 368.2 304 269.7 304H178.3z"/></svg><div class="t nw" style="left:44.77px;top:84.71px;font-size:32px;color:#f1f2fc;letter-spacing:0.2px;-webkit-text-stroke:0.4px #f1f2fc;transform:scaleY(1.054);transform-origin:0 84.65%;">Hugo Rye</div><div class="b" style="left:9.7px;top:133px;width:119.72px;height:41px;overflow:hidden;"><div class="b" style="left:0px;top:0px;width:31px;height:40.8px;background:#8a56c4;border-radius:8.5px;overflow:hidden;"><svg class="b" style="left:15.2px;top:8.7px;fill:#fff" width="24.6" height="24.5" viewBox="0 0 512 512"><path d="M352 320c88.4 0 160-71.6 160-160c0-15.3-2.2-30.1-6.2-44.2c-3.1-10.8-16.4-13.2-24.3-5.3l-76.8 76.8c-3 3-7.1 4.7-11.3 4.7H336c-8.8 0-16-7.2-16-16V118.6c0-4.2 1.7-8.3 4.7-11.3l76.8-76.8c7.9-7.9 5.4-21.2-5.3-24.3C382.1 2.2 367.3 0 352 0C263.6 0 192 71.6 192 160c0 19.1 3.4 37.5 9.5 54.5L19.9 396.1C7.2 408.8 0 426.1 0 444.1C0 481.6 30.4 512 67.9 512c18 0 35.3-7.2 48-19.9L297.5 310.5c17 6.2 35.4 9.5 54.5 9.5zM80 408a24 24 0 1 1 0 48 24 24 0 1 1 0-48z"/></svg></div><div class="t nw" style="left:38.4px;top:6.05px;font-size:24.51px;color:#f1f2fc;-webkit-text-stroke:0.4px #f1f2fc;transform:scaleY(1.009);transform-origin:0 84.65%;">+1 more</div></div></div><div class="b" style="left:331.16px;top:1349.4px;width:139.12px;height:184.2px;background:#5161ef;border-radius:4px;overflow:hidden;"><div class="t nw" style="left:8.63px;top:16.49px;font-size:38.4px;font-weight:700;color:#f1f2fc;-webkit-text-stroke:0.35px #5161ef;transform:scaleY(1.054);transform-origin:0 84.65%;">Mon A Maternity</div><svg class="b" style="left:10px;top:83.8px;fill:#f1f2fc" width="28.2" height="32.3" viewBox="0 0 448 512"><path d="M224 256A128 128 0 1 0 224 0a128 128 0 1 0 0 256zm-45.7 48C79.8 304 0 383.8 0 482.3C0 498.7 13.3 512 29.7 512H418.3c16.4 0 29.7-13.3 29.7-29.7C448 383.8 368.2 304 269.7 304H178.3z"/></svg><div class="t nw" style="left:44.77px;top:84.71px;font-size:32px;color:#f1f2fc;letter-spacing:0.2px;-webkit-text-stroke:0.4px #f1f2fc;transform:scaleY(1.054);transform-origin:0 84.65%;">Dan Green</div><div class="b" style="left:9.7px;top:133px;width:119.72px;height:41px;overflow:hidden;"><div class="b" style="left:0px;top:0px;width:31px;height:40.8px;background:#8a56c4;border-radius:8.5px;overflow:hidden;"><svg class="b" style="left:15.2px;top:8.7px;fill:#fff" width="24.6" height="24.5" viewBox="0 0 512 512"><path d="M352 320c88.4 0 160-71.6 160-160c0-15.3-2.2-30.1-6.2-44.2c-3.1-10.8-16.4-13.2-24.3-5.3l-76.8 76.8c-3 3-7.1 4.7-11.3 4.7H336c-8.8 0-16-7.2-16-16V118.6c0-4.2 1.7-8.3 4.7-11.3l76.8-76.8c7.9-7.9 5.4-21.2-5.3-24.3C382.1 2.2 367.3 0 352 0C263.6 0 192 71.6 192 160c0 19.1 3.4 37.5 9.5 54.5L19.9 396.1C7.2 408.8 0 426.1 0 444.1C0 481.6 30.4 512 67.9 512c18 0 35.3-7.2 48-19.9L297.5 310.5c17 6.2 35.4 9.5 54.5 9.5zM80 408a24 24 0 1 1 0 48 24 24 0 1 1 0-48z"/></svg></div><div class="t nw" style="left:38.4px;top:6.05px;font-size:24.51px;color:#f1f2fc;-webkit-text-stroke:0.4px #f1f2fc;transform:scaleY(1.009);transform-origin:0 84.65%;">+1 more</div></div></div><div class="b" style="left:609.4px;top:525.3px;width:139.12px;height:184.2px;background:#5161ef;border-radius:4px;overflow:hidden;"><div class="t nw" style="left:10.77px;top:16.49px;font-size:38.4px;font-weight:700;color:#f1f2fc;-webkit-text-stroke:0.35px #5161ef;transform:scaleY(1.054);transform-origin:0 84.65%;">Tue M Maternity</div><svg class="b" style="left:10px;top:83.8px;fill:#f1f2fc" width="28.2" height="32.3" viewBox="0 0 448 512"><path d="M224 256A128 128 0 1 0 224 0a128 128 0 1 0 0 256zm-45.7 48C79.8 304 0 383.8 0 482.3C0 498.7 13.3 512 29.7 512H418.3c16.4 0 29.7-13.3 29.7-29.7C448 383.8 368.2 304 269.7 304H178.3z"/></svg><div class="t nw" style="left:45.77px;top:84.71px;font-size:32px;color:#f1f2fc;letter-spacing:0.2px;-webkit-text-stroke:0.4px #f1f2fc;transform:scaleY(1.054);transform-origin:0 84.65%;">Carl Rose</div><div class="b" style="left:9.7px;top:133px;width:119.72px;height:41px;overflow:hidden;"><div class="b" style="left:0px;top:0px;width:31px;height:40.8px;background:#8a56c4;border-radius:8.5px;overflow:hidden;"><svg class="b" style="left:15.2px;top:8.7px;fill:#fff" width="24.6" height="24.5" viewBox="0 0 512 512"><path d="M352 320c88.4 0 160-71.6 160-160c0-15.3-2.2-30.1-6.2-44.2c-3.1-10.8-16.4-13.2-24.3-5.3l-76.8 76.8c-3 3-7.1 4.7-11.3 4.7H336c-8.8 0-16-7.2-16-16V118.6c0-4.2 1.7-8.3 4.7-11.3l76.8-76.8c7.9-7.9 5.4-21.2-5.3-24.3C382.1 2.2 367.3 0 352 0C263.6 0 192 71.6 192 160c0 19.1 3.4 37.5 9.5 54.5L19.9 396.1C7.2 408.8 0 426.1 0 444.1C0 481.6 30.4 512 67.9 512c18 0 35.3-7.2 48-19.9L297.5 310.5c17 6.2 35.4 9.5 54.5 9.5zM80 408a24 24 0 1 1 0 48 24 24 0 1 1 0-48z"/></svg></div><div class="t nw" style="left:38.4px;top:6.05px;font-size:24.51px;color:#f1f2fc;-webkit-text-stroke:0.4px #f1f2fc;transform:scaleY(1.009);transform-origin:0 84.65%;">+1 more</div></div></div><div class="b" style="left:748.52px;top:728.9px;width:139.12px;height:184.2px;background:#5161ef;border-radius:4px;overflow:hidden;"><div class="t nw" style="left:10.77px;top:16.49px;font-size:38.4px;font-weight:700;color:#f1f2fc;-webkit-text-stroke:0.35px #5161ef;transform:scaleY(1.054);transform-origin:0 84.65%;">Tue A Maternity</div><svg class="b" style="left:10px;top:83.8px;fill:#f1f2fc" width="28.2" height="32.3" viewBox="0 0 448 512"><path d="M224 256A128 128 0 1 0 224 0a128 128 0 1 0 0 256zm-45.7 48C79.8 304 0 383.8 0 482.3C0 498.7 13.3 512 29.7 512H418.3c16.4 0 29.7-13.3 29.7-29.7C448 383.8 368.2 304 269.7 304H178.3z"/></svg><div class="t nw" style="left:44.77px;top:84.71px;font-size:32px;color:#f1f2fc;letter-spacing:0.2px;-webkit-text-stroke:0.4px #f1f2fc;transform:scaleY(1.054);transform-origin:0 84.65%;">Dan Green</div><div class="b" style="left:9.7px;top:133px;width:119.72px;height:41px;overflow:hidden;"><div class="b" style="left:0px;top:0px;width:31px;height:40.8px;background:#8a56c4;border-radius:8.5px;overflow:hidden;"><svg class="b" style="left:15.2px;top:8.7px;fill:#fff" width="24.6" height="24.5" viewBox="0 0 512 512"><path d="M352 320c88.4 0 160-71.6 160-160c0-15.3-2.2-30.1-6.2-44.2c-3.1-10.8-16.4-13.2-24.3-5.3l-76.8 76.8c-3 3-7.1 4.7-11.3 4.7H336c-8.8 0-16-7.2-16-16V118.6c0-4.2 1.7-8.3 4.7-11.3l76.8-76.8c7.9-7.9 5.4-21.2-5.3-24.3C382.1 2.2 367.3 0 352 0C263.6 0 192 71.6 192 160c0 19.1 3.4 37.5 9.5 54.5L19.9 396.1C7.2 408.8 0 426.1 0 444.1C0 481.6 30.4 512 67.9 512c18 0 35.3-7.2 48-19.9L297.5 310.5c17 6.2 35.4 9.5 54.5 9.5zM80 408a24 24 0 1 1 0 48 24 24 0 1 1 0-48z"/></svg></div><div class="t nw" style="left:38.4px;top:6.05px;font-size:24.51px;color:#f1f2fc;-webkit-text-stroke:0.4px #f1f2fc;transform:scaleY(1.009);transform-origin:0 84.65%;">+1 more</div></div></div><div class="b" style="left:748.52px;top:933px;width:139.12px;height:184.2px;background:#5161ef;border-radius:4px;overflow:hidden;"><div class="t nw" style="left:10.77px;top:16.49px;font-size:38.4px;font-weight:700;color:#f1f2fc;-webkit-text-stroke:0.35px #5161ef;transform:scaleY(1.054);transform-origin:0 84.65%;">Tue A Maternity</div><svg class="b" style="left:10px;top:83.8px;fill:#f1f2fc" width="28.2" height="32.3" viewBox="0 0 448 512"><path d="M224 256A128 128 0 1 0 224 0a128 128 0 1 0 0 256zm-45.7 48C79.8 304 0 383.8 0 482.3C0 498.7 13.3 512 29.7 512H418.3c16.4 0 29.7-13.3 29.7-29.7C448 383.8 368.2 304 269.7 304H178.3z"/></svg><div class="t nw" style="left:44.77px;top:84.71px;font-size:32px;color:#f1f2fc;letter-spacing:0.2px;-webkit-text-stroke:0.4px #f1f2fc;transform:scaleY(1.054);transform-origin:0 84.65%;">Elsa Jones</div><div class="b" style="left:9.7px;top:133px;width:119.72px;height:41px;overflow:hidden;"><div class="b" style="left:0px;top:0px;width:31px;height:40.8px;background:#8a56c4;border-radius:8.5px;overflow:hidden;"><svg class="b" style="left:15.2px;top:8.7px;fill:#fff" width="24.6" height="24.5" viewBox="0 0 512 512"><path d="M352 320c88.4 0 160-71.6 160-160c0-15.3-2.2-30.1-6.2-44.2c-3.1-10.8-16.4-13.2-24.3-5.3l-76.8 76.8c-3 3-7.1 4.7-11.3 4.7H336c-8.8 0-16-7.2-16-16V118.6c0-4.2 1.7-8.3 4.7-11.3l76.8-76.8c7.9-7.9 5.4-21.2-5.3-24.3C382.1 2.2 367.3 0 352 0C263.6 0 192 71.6 192 160c0 19.1 3.4 37.5 9.5 54.5L19.9 396.1C7.2 408.8 0 426.1 0 444.1C0 481.6 30.4 512 67.9 512c18 0 35.3-7.2 48-19.9L297.5 310.5c17 6.2 35.4 9.5 54.5 9.5zM80 408a24 24 0 1 1 0 48 24 24 0 1 1 0-48z"/></svg></div><div class="t nw" style="left:38.4px;top:6.05px;font-size:24.51px;color:#f1f2fc;-webkit-text-stroke:0.4px #f1f2fc;transform:scaleY(1.009);transform-origin:0 84.65%;">+1 more</div></div></div><div class="b" style="left:748.52px;top:1137.1px;width:139.12px;height:184.2px;background:#5161ef;border-radius:4px;overflow:hidden;"><div class="t nw" style="left:10.77px;top:16.49px;font-size:38.4px;font-weight:700;color:#f1f2fc;-webkit-text-stroke:0.35px #5161ef;transform:scaleY(1.054);transform-origin:0 84.65%;">Tue A Surgery</div><svg class="b" style="left:10px;top:83.8px;fill:#f1f2fc" width="28.2" height="32.3" viewBox="0 0 448 512"><path d="M224 256A128 128 0 1 0 224 0a128 128 0 1 0 0 256zm-45.7 48C79.8 304 0 383.8 0 482.3C0 498.7 13.3 512 29.7 512H418.3c16.4 0 29.7-13.3 29.7-29.7C448 383.8 368.2 304 269.7 304H178.3z"/></svg><div class="t nw" style="left:45.79px;top:84.71px;font-size:32px;color:#f1f2fc;letter-spacing:0.2px;-webkit-text-stroke:0.4px #f1f2fc;transform:scaleY(1.054);transform-origin:0 84.65%;">Gus Li</div><div class="b" style="left:9.7px;top:133px;width:119.72px;height:41px;overflow:hidden;"><div class="b" style="left:0px;top:0px;width:31px;height:40.8px;background:#e8732a;border-radius:8.5px;overflow:hidden;"><svg class="b" style="left:15.2px;top:8.7px;fill:#111" width="24.6" height="24.5" viewBox="0 0 512 512"><path d="M352 320c88.4 0 160-71.6 160-160c0-15.3-2.2-30.1-6.2-44.2c-3.1-10.8-16.4-13.2-24.3-5.3l-76.8 76.8c-3 3-7.1 4.7-11.3 4.7H336c-8.8 0-16-7.2-16-16V118.6c0-4.2 1.7-8.3 4.7-11.3l76.8-76.8c7.9-7.9 5.4-21.2-5.3-24.3C382.1 2.2 367.3 0 352 0C263.6 0 192 71.6 192 160c0 19.1 3.4 37.5 9.5 54.5L19.9 396.1C7.2 408.8 0 426.1 0 444.1C0 481.6 30.4 512 67.9 512c18 0 35.3-7.2 48-19.9L297.5 310.5c17 6.2 35.4 9.5 54.5 9.5zM80 408a24 24 0 1 1 0 48 24 24 0 1 1 0-48z"/></svg></div><div class="t nw" style="left:38.4px;top:6.05px;font-size:24.51px;color:#f1f2fc;-webkit-text-stroke:0.4px #f1f2fc;transform:scaleY(1.009);transform-origin:0 84.65%;">+1 more</div></div></div><div class="b" style="left:609.4px;top:1349.4px;width:139.12px;height:184.2px;background:#5161ef;border-radius:4px;overflow:hidden;"><div class="t nw" style="left:10.77px;top:16.49px;font-size:38.4px;font-weight:700;color:#f1f2fc;-webkit-text-stroke:0.35px #5161ef;transform:scaleY(1.054);transform-origin:0 84.65%;">Tue M Maternity</div><svg class="b" style="left:10px;top:83.8px;fill:#f1f2fc" width="28.2" height="32.3" viewBox="0 0 448 512"><path d="M224 256A128 128 0 1 0 224 0a128 128 0 1 0 0 256zm-45.7 48C79.8 304 0 383.8 0 482.3C0 498.7 13.3 512 29.7 512H418.3c16.4 0 29.7-13.3 29.7-29.7C448 383.8 368.2 304 269.7 304H178.3z"/></svg><div class="t nw" style="left:44.45px;top:84.71px;font-size:32px;color:#f1f2fc;letter-spacing:0.2px;-webkit-text-stroke:0.4px #f1f2fc;transform:scaleY(1.054);transform-origin:0 84.65%;">Ivy Rye</div><div class="b" style="left:9.7px;top:133px;width:119.72px;height:41px;overflow:hidden;"><div class="b" style="left:0px;top:0px;width:31px;height:40.8px;background:#8a56c4;border-radius:8.5px;overflow:hidden;"><svg class="b" style="left:15.2px;top:8.7px;fill:#fff" width="24.6" height="24.5" viewBox="0 0 512 512"><path d="M352 320c88.4 0 160-71.6 160-160c0-15.3-2.2-30.1-6.2-44.2c-3.1-10.8-16.4-13.2-24.3-5.3l-76.8 76.8c-3 3-7.1 4.7-11.3 4.7H336c-8.8 0-16-7.2-16-16V118.6c0-4.2 1.7-8.3 4.7-11.3l76.8-76.8c7.9-7.9 5.4-21.2-5.3-24.3C382.1 2.2 367.3 0 352 0C263.6 0 192 71.6 192 160c0 19.1 3.4 37.5 9.5 54.5L19.9 396.1C7.2 408.8 0 426.1 0 444.1C0 481.6 30.4 512 67.9 512c18 0 35.3-7.2 48-19.9L297.5 310.5c17 6.2 35.4 9.5 54.5 9.5zM80 408a24 24 0 1 1 0 48 24 24 0 1 1 0-48z"/></svg></div><div class="t nw" style="left:38.4px;top:6.05px;font-size:24.51px;color:#f1f2fc;-webkit-text-stroke:0.4px #f1f2fc;transform:scaleY(1.009);transform-origin:0 84.65%;">+1 more</div></div></div><div class="b" style="left:887.64px;top:1341.4px;width:139.12px;height:184.2px;background:#5fc767;border-radius:4px;overflow:hidden;"><div class="t nw" style="left:10.77px;top:16.49px;font-size:38.4px;font-weight:700;color:#11131c;-webkit-text-stroke:0.35px #5fc767;transform:scaleY(1.054);transform-origin:0 84.65%;">Tue N Maternity</div><svg class="b" style="left:10px;top:83.8px;fill:#11131c" width="28.2" height="32.3" viewBox="0 0 448 512"><path d="M224 256A128 128 0 1 0 224 0a128 128 0 1 0 0 256zm-45.7 48C79.8 304 0 383.8 0 482.3C0 498.7 13.3 512 29.7 512H418.3c16.4 0 29.7-13.3 29.7-29.7C448 383.8 368.2 304 269.7 304H178.3z"/></svg><div class="t nw" style="left:46.9px;top:84.71px;font-size:32px;color:#11131c;letter-spacing:0.2px;-webkit-text-stroke:0.4px #11131c;transform:scaleY(1.054);transform-origin:0 84.65%;">Jay Smith</div><div class="b" style="left:9.7px;top:133px;width:119.72px;height:41px;overflow:hidden;"><div class="b" style="left:0px;top:0px;width:31px;height:40.8px;background:#8a56c4;border-radius:8.5px;overflow:hidden;"><svg class="b" style="left:15.2px;top:8.7px;fill:#fff" width="24.6" height="24.5" viewBox="0 0 512 512"><path d="M352 320c88.4 0 160-71.6 160-160c0-15.3-2.2-30.1-6.2-44.2c-3.1-10.8-16.4-13.2-24.3-5.3l-76.8 76.8c-3 3-7.1 4.7-11.3 4.7H336c-8.8 0-16-7.2-16-16V118.6c0-4.2 1.7-8.3 4.7-11.3l76.8-76.8c7.9-7.9 5.4-21.2-5.3-24.3C382.1 2.2 367.3 0 352 0C263.6 0 192 71.6 192 160c0 19.1 3.4 37.5 9.5 54.5L19.9 396.1C7.2 408.8 0 426.1 0 444.1C0 481.6 30.4 512 67.9 512c18 0 35.3-7.2 48-19.9L297.5 310.5c17 6.2 35.4 9.5 54.5 9.5zM80 408a24 24 0 1 1 0 48 24 24 0 1 1 0-48z"/></svg></div><div class="t nw" style="left:38.4px;top:6.05px;font-size:24.51px;color:#11131c;-webkit-text-stroke:0.4px #11131c;transform:scaleY(1.009);transform-origin:0 84.65%;">+1 more</div></div></div><div class="b" style="left:1026.76px;top:728.9px;width:139.12px;height:184.2px;background:#5fc767;border-radius:4px;overflow:hidden;"><div class="t nw" style="left:11.16px;top:16.49px;font-size:38.4px;font-weight:700;color:#11131c;-webkit-text-stroke:0.35px #5fc767;transform:scaleY(1.054);transform-origin:0 84.65%;">Wed M Maternity</div><svg class="b" style="left:10px;top:83.8px;fill:#11131c" width="28.2" height="32.3" viewBox="0 0 448 512"><path d="M224 256A128 128 0 1 0 224 0a128 128 0 1 0 0 256zm-45.7 48C79.8 304 0 383.8 0 482.3C0 498.7 13.3 512 29.7 512H418.3c16.4 0 29.7-13.3 29.7-29.7C448 383.8 368.2 304 269.7 304H178.3z"/></svg><div class="t nw" style="left:44.77px;top:84.71px;font-size:32px;color:#11131c;letter-spacing:0.2px;-webkit-text-stroke:0.4px #11131c;transform:scaleY(1.054);transform-origin:0 84.65%;">Beth Fox</div><div class="b" style="left:9.7px;top:133px;width:119.72px;height:41px;overflow:hidden;"><div class="b" style="left:0px;top:0px;width:31px;height:40.8px;background:#8a56c4;border-radius:8.5px;overflow:hidden;"><svg class="b" style="left:15.2px;top:8.7px;fill:#fff" width="24.6" height="24.5" viewBox="0 0 512 512"><path d="M352 320c88.4 0 160-71.6 160-160c0-15.3-2.2-30.1-6.2-44.2c-3.1-10.8-16.4-13.2-24.3-5.3l-76.8 76.8c-3 3-7.1 4.7-11.3 4.7H336c-8.8 0-16-7.2-16-16V118.6c0-4.2 1.7-8.3 4.7-11.3l76.8-76.8c7.9-7.9 5.4-21.2-5.3-24.3C382.1 2.2 367.3 0 352 0C263.6 0 192 71.6 192 160c0 19.1 3.4 37.5 9.5 54.5L19.9 396.1C7.2 408.8 0 426.1 0 444.1C0 481.6 30.4 512 67.9 512c18 0 35.3-7.2 48-19.9L297.5 310.5c17 6.2 35.4 9.5 54.5 9.5zM80 408a24 24 0 1 1 0 48 24 24 0 1 1 0-48z"/></svg></div><div class="t nw" style="left:38.4px;top:6.05px;font-size:24.51px;color:#11131c;-webkit-text-stroke:0.4px #11131c;transform:scaleY(1.009);transform-origin:0 84.65%;">+1 more</div></div></div><div class="b" style="left:1305px;top:737.3px;width:139.12px;height:176px;background:#5161ef;border-radius:4px;overflow:hidden;"><div class="t nw" style="left:11.16px;top:16.49px;font-size:38.4px;font-weight:700;color:#f1f2fc;-webkit-text-stroke:0.35px #5161ef;transform:scaleY(1.054);transform-origin:0 84.65%;">Wed N Maternity</div><svg class="b" style="left:9.2px;top:75.6px;fill:#f1f2fc" width="40.4" height="32.3" viewBox="0 0 640 512"><path d="M38.8 5.1C28.4-3.1 13.3-1.2 5.1 9.2S-1.2 34.7 9.2 42.9l592 464c10.4 8.2 25.5 6.3 33.7-4.1s6.3-25.5-4.1-33.7L353.3 251.6C407.9 237 448 187.2 448 128C448 57.3 390.7 0 320 0C250.2 0 193.5 55.8 192 125.2L38.8 5.1zM264.3 304.3C170.5 309.4 96 387.2 96 482.3c0 16.4 13.3 29.7 29.7 29.7H514.3c3.9 0 7.6-.7 11-2.1l-261-205.6z"/></svg><div class="t nw" style="left:58.13px;top:76.71px;font-size:32px;color:#f1f2fc;letter-spacing:0.2px;-webkit-text-stroke:0.4px #f1f2fc;transform:scaleY(1.054);transform-origin:0 84.65%;">Unassigned</div><div class="b" style="left:9.7px;top:124.9px;width:119.72px;height:41px;overflow:hidden;"><div class="b" style="left:0px;top:0px;width:31px;height:40.8px;background:#8a56c4;border-radius:8.5px;overflow:hidden;"><svg class="b" style="left:15.2px;top:8.7px;fill:#fff" width="24.6" height="24.5" viewBox="0 0 512 512"><path d="M352 320c88.4 0 160-71.6 160-160c0-15.3-2.2-30.1-6.2-44.2c-3.1-10.8-16.4-13.2-24.3-5.3l-76.8 76.8c-3 3-7.1 4.7-11.3 4.7H336c-8.8 0-16-7.2-16-16V118.6c0-4.2 1.7-8.3 4.7-11.3l76.8-76.8c7.9-7.9 5.4-21.2-5.3-24.3C382.1 2.2 367.3 0 352 0C263.6 0 192 71.6 192 160c0 19.1 3.4 37.5 9.5 54.5L19.9 396.1C7.2 408.8 0 426.1 0 444.1C0 481.6 30.4 512 67.9 512c18 0 35.3-7.2 48-19.9L297.5 310.5c17 6.2 35.4 9.5 54.5 9.5zM80 408a24 24 0 1 1 0 48 24 24 0 1 1 0-48z"/></svg></div><div class="t nw" style="left:38.4px;top:6.05px;font-size:24.51px;color:#f1f2fc;-webkit-text-stroke:0.4px #f1f2fc;transform:scaleY(1.009);transform-origin:0 84.65%;">+1 more</div></div></div><div class="b" style="left:1026.76px;top:933px;width:139.12px;height:184.2px;background:#5161ef;border-radius:4px;overflow:hidden;"><div class="t nw" style="left:11.16px;top:16.49px;font-size:38.4px;font-weight:700;color:#f1f2fc;-webkit-text-stroke:0.35px #5161ef;transform:scaleY(1.054);transform-origin:0 84.65%;">Wed M Maternity</div><svg class="b" style="left:10px;top:83.8px;fill:#f1f2fc" width="28.2" height="32.3" viewBox="0 0 448 512"><path d="M224 256A128 128 0 1 0 224 0a128 128 0 1 0 0 256zm-45.7 48C79.8 304 0 383.8 0 482.3C0 498.7 13.3 512 29.7 512H418.3c16.4 0 29.7-13.3 29.7-29.7C448 383.8 368.2 304 269.7 304H178.3z"/></svg><div class="t nw" style="left:44.77px;top:84.71px;font-size:32px;color:#f1f2fc;letter-spacing:0.2px;-webkit-text-stroke:0.4px #f1f2fc;transform:scaleY(1.054);transform-origin:0 84.65%;">Lucy Zhao</div><div class="b" style="left:9.7px;top:133px;width:119.72px;height:41px;overflow:hidden;"><div class="b" style="left:0px;top:0px;width:31px;height:40.8px;background:#8a56c4;border-radius:8.5px;overflow:hidden;"><svg class="b" style="left:15.2px;top:8.7px;fill:#fff" width="24.6" height="24.5" viewBox="0 0 512 512"><path d="M352 320c88.4 0 160-71.6 160-160c0-15.3-2.2-30.1-6.2-44.2c-3.1-10.8-16.4-13.2-24.3-5.3l-76.8 76.8c-3 3-7.1 4.7-11.3 4.7H336c-8.8 0-16-7.2-16-16V118.6c0-4.2 1.7-8.3 4.7-11.3l76.8-76.8c7.9-7.9 5.4-21.2-5.3-24.3C382.1 2.2 367.3 0 352 0C263.6 0 192 71.6 192 160c0 19.1 3.4 37.5 9.5 54.5L19.9 396.1C7.2 408.8 0 426.1 0 444.1C0 481.6 30.4 512 67.9 512c18 0 35.3-7.2 48-19.9L297.5 310.5c17 6.2 35.4 9.5 54.5 9.5zM80 408a24 24 0 1 1 0 48 24 24 0 1 1 0-48z"/></svg></div><div class="t nw" style="left:38.4px;top:6.05px;font-size:24.51px;color:#f1f2fc;-webkit-text-stroke:0.4px #f1f2fc;transform:scaleY(1.009);transform-origin:0 84.65%;">+1 more</div></div></div><div class="b" style="left:1305px;top:933px;width:139.12px;height:184.2px;background:#5fc767;border-radius:4px;overflow:hidden;"><div class="t nw" style="left:11.16px;top:16.49px;font-size:38.4px;font-weight:700;color:#11131c;-webkit-text-stroke:0.35px #5fc767;transform:scaleY(1.054);transform-origin:0 84.65%;">Wed N Maternity</div><svg class="b" style="left:10px;top:83.8px;fill:#11131c" width="28.2" height="32.3" viewBox="0 0 448 512"><path d="M224 256A128 128 0 1 0 224 0a128 128 0 1 0 0 256zm-45.7 48C79.8 304 0 383.8 0 482.3C0 498.7 13.3 512 29.7 512H418.3c16.4 0 29.7-13.3 29.7-29.7C448 383.8 368.2 304 269.7 304H178.3z"/></svg><div class="t nw" style="left:46.9px;top:84.71px;font-size:32px;color:#11131c;letter-spacing:0.2px;-webkit-text-stroke:0.4px #11131c;transform:scaleY(1.054);transform-origin:0 84.65%;">Jay Smith</div><div class="b" style="left:9.7px;top:133px;width:119.72px;height:41px;overflow:hidden;"><div class="b" style="left:0px;top:0px;width:31px;height:40.8px;background:#8a56c4;border-radius:8.5px;overflow:hidden;"><svg class="b" style="left:15.2px;top:8.7px;fill:#fff" width="24.6" height="24.5" viewBox="0 0 512 512"><path d="M352 320c88.4 0 160-71.6 160-160c0-15.3-2.2-30.1-6.2-44.2c-3.1-10.8-16.4-13.2-24.3-5.3l-76.8 76.8c-3 3-7.1 4.7-11.3 4.7H336c-8.8 0-16-7.2-16-16V118.6c0-4.2 1.7-8.3 4.7-11.3l76.8-76.8c7.9-7.9 5.4-21.2-5.3-24.3C382.1 2.2 367.3 0 352 0C263.6 0 192 71.6 192 160c0 19.1 3.4 37.5 9.5 54.5L19.9 396.1C7.2 408.8 0 426.1 0 444.1C0 481.6 30.4 512 67.9 512c18 0 35.3-7.2 48-19.9L297.5 310.5c17 6.2 35.4 9.5 54.5 9.5zM80 408a24 24 0 1 1 0 48 24 24 0 1 1 0-48z"/></svg></div><div class="t nw" style="left:38.4px;top:6.05px;font-size:24.51px;color:#11131c;-webkit-text-stroke:0.4px #11131c;transform:scaleY(1.009);transform-origin:0 84.65%;">+1 more</div></div></div><div class="b" style="left:1026.76px;top:1137.1px;width:139.12px;height:184.2px;background:#5161ef;border-radius:4px;overflow:hidden;"><div class="t nw" style="left:11.16px;top:16.49px;font-size:38.4px;font-weight:700;color:#f1f2fc;-webkit-text-stroke:0.35px #5161ef;transform:scaleY(1.054);transform-origin:0 84.65%;">Wed M Surgery</div><svg class="b" style="left:10px;top:83.8px;fill:#f1f2fc" width="28.2" height="32.3" viewBox="0 0 448 512"><path d="M224 256A128 128 0 1 0 224 0a128 128 0 1 0 0 256zm-45.7 48C79.8 304 0 383.8 0 482.3C0 498.7 13.3 512 29.7 512H418.3c16.4 0 29.7-13.3 29.7-29.7C448 383.8 368.2 304 269.7 304H178.3z"/></svg><div class="t nw" style="left:44.77px;top:84.71px;font-size:32px;color:#f1f2fc;letter-spacing:0.2px;-webkit-text-stroke:0.4px #f1f2fc;transform:scaleY(1.054);transform-origin:0 84.65%;">Kevin Watt</div><div class="b" style="left:9.7px;top:133px;width:119.72px;height:41px;overflow:hidden;"><div class="b" style="left:0px;top:0px;width:31px;height:40.8px;background:#e8732a;border-radius:8.5px;overflow:hidden;"><svg class="b" style="left:15.2px;top:8.7px;fill:#111" width="24.6" height="24.5" viewBox="0 0 512 512"><path d="M352 320c88.4 0 160-71.6 160-160c0-15.3-2.2-30.1-6.2-44.2c-3.1-10.8-16.4-13.2-24.3-5.3l-76.8 76.8c-3 3-7.1 4.7-11.3 4.7H336c-8.8 0-16-7.2-16-16V118.6c0-4.2 1.7-8.3 4.7-11.3l76.8-76.8c7.9-7.9 5.4-21.2-5.3-24.3C382.1 2.2 367.3 0 352 0C263.6 0 192 71.6 192 160c0 19.1 3.4 37.5 9.5 54.5L19.9 396.1C7.2 408.8 0 426.1 0 444.1C0 481.6 30.4 512 67.9 512c18 0 35.3-7.2 48-19.9L297.5 310.5c17 6.2 35.4 9.5 54.5 9.5zM80 408a24 24 0 1 1 0 48 24 24 0 1 1 0-48z"/></svg></div><div class="t nw" style="left:38.4px;top:6.05px;font-size:24.51px;color:#f1f2fc;-webkit-text-stroke:0.4px #f1f2fc;transform:scaleY(1.009);transform-origin:0 84.65%;">+1 more</div></div></div><div class="b" style="left:1305px;top:1137.1px;width:139.12px;height:184.2px;background:#5161ef;border-radius:4px;overflow:hidden;"><div class="t nw" style="left:11.16px;top:16.49px;font-size:38.4px;font-weight:700;color:#f1f2fc;-webkit-text-stroke:0.35px #5161ef;transform:scaleY(1.054);transform-origin:0 84.65%;">Wed N Surgery</div><svg class="b" style="left:10px;top:83.8px;fill:#f1f2fc" width="28.2" height="32.3" viewBox="0 0 448 512"><path d="M224 256A128 128 0 1 0 224 0a128 128 0 1 0 0 256zm-45.7 48C79.8 304 0 383.8 0 482.3C0 498.7 13.3 512 29.7 512H418.3c16.4 0 29.7-13.3 29.7-29.7C448 383.8 368.2 304 269.7 304H178.3z"/></svg><div class="t nw" style="left:44.77px;top:84.71px;font-size:32px;color:#f1f2fc;letter-spacing:0.2px;-webkit-text-stroke:0.4px #f1f2fc;transform:scaleY(1.054);transform-origin:0 84.65%;">Flo King</div><div class="b" style="left:9.7px;top:133px;width:119.72px;height:41px;overflow:hidden;"><div class="b" style="left:0px;top:0px;width:31px;height:40.8px;background:#e8732a;border-radius:8.5px;overflow:hidden;"><svg class="b" style="left:15.2px;top:8.7px;fill:#111" width="24.6" height="24.5" viewBox="0 0 512 512"><path d="M352 320c88.4 0 160-71.6 160-160c0-15.3-2.2-30.1-6.2-44.2c-3.1-10.8-16.4-13.2-24.3-5.3l-76.8 76.8c-3 3-7.1 4.7-11.3 4.7H336c-8.8 0-16-7.2-16-16V118.6c0-4.2 1.7-8.3 4.7-11.3l76.8-76.8c7.9-7.9 5.4-21.2-5.3-24.3C382.1 2.2 367.3 0 352 0C263.6 0 192 71.6 192 160c0 19.1 3.4 37.5 9.5 54.5L19.9 396.1C7.2 408.8 0 426.1 0 444.1C0 481.6 30.4 512 67.9 512c18 0 35.3-7.2 48-19.9L297.5 310.5c17 6.2 35.4 9.5 54.5 9.5zM80 408a24 24 0 1 1 0 48 24 24 0 1 1 0-48z"/></svg></div><div class="t nw" style="left:38.4px;top:6.05px;font-size:24.51px;color:#f1f2fc;-webkit-text-stroke:0.4px #f1f2fc;transform:scaleY(1.009);transform-origin:0 84.65%;">+1 more</div></div></div><div class="b" style="left:1165.88px;top:1341.4px;width:139.12px;height:184.2px;background:#5161ef;border-radius:4px;overflow:hidden;"><div class="t nw" style="left:11.16px;top:16.49px;font-size:38.4px;font-weight:700;color:#f1f2fc;-webkit-text-stroke:0.35px #5161ef;transform:scaleY(1.054);transform-origin:0 84.65%;">Wed A Maternity</div><svg class="b" style="left:10px;top:83.8px;fill:#f1f2fc" width="28.2" height="32.3" viewBox="0 0 448 512"><path d="M224 256A128 128 0 1 0 224 0a128 128 0 1 0 0 256zm-45.7 48C79.8 304 0 383.8 0 482.3C0 498.7 13.3 512 29.7 512H418.3c16.4 0 29.7-13.3 29.7-29.7C448 383.8 368.2 304 269.7 304H178.3z"/></svg><div class="t nw" style="left:44.77px;top:84.71px;font-size:32px;color:#f1f2fc;letter-spacing:0.2px;-webkit-text-stroke:0.4px #f1f2fc;transform:scaleY(1.054);transform-origin:0 84.65%;">Dan Green</div><div class="b" style="left:9.7px;top:133px;width:119.72px;height:41px;overflow:hidden;"><div class="b" style="left:0px;top:0px;width:31px;height:40.8px;background:#8a56c4;border-radius:8.5px;overflow:hidden;"><svg class="b" style="left:15.2px;top:8.7px;fill:#fff" width="24.6" height="24.5" viewBox="0 0 512 512"><path d="M352 320c88.4 0 160-71.6 160-160c0-15.3-2.2-30.1-6.2-44.2c-3.1-10.8-16.4-13.2-24.3-5.3l-76.8 76.8c-3 3-7.1 4.7-11.3 4.7H336c-8.8 0-16-7.2-16-16V118.6c0-4.2 1.7-8.3 4.7-11.3l76.8-76.8c7.9-7.9 5.4-21.2-5.3-24.3C382.1 2.2 367.3 0 352 0C263.6 0 192 71.6 192 160c0 19.1 3.4 37.5 9.5 54.5L19.9 396.1C7.2 408.8 0 426.1 0 444.1C0 481.6 30.4 512 67.9 512c18 0 35.3-7.2 48-19.9L297.5 310.5c17 6.2 35.4 9.5 54.5 9.5zM80 408a24 24 0 1 1 0 48 24 24 0 1 1 0-48z"/></svg></div><div class="t nw" style="left:38.4px;top:6.05px;font-size:24.51px;color:#f1f2fc;-webkit-text-stroke:0.4px #f1f2fc;transform:scaleY(1.009);transform-origin:0 84.65%;">+1 more</div></div></div><div class="b" style="left:1583.24px;top:133px;width:139.12px;height:184.2px;background:#5161ef;border-radius:4px;overflow:hidden;"><div class="t nw" style="left:10.77px;top:16.49px;font-size:38.4px;font-weight:700;color:#f1f2fc;-webkit-text-stroke:0.35px #5161ef;transform:scaleY(1.054);transform-origin:0 84.65%;">Thu A Surgery</div><svg class="b" style="left:10px;top:83.8px;fill:#f1f2fc" width="28.2" height="32.3" viewBox="0 0 448 512"><path d="M224 256A128 128 0 1 0 224 0a128 128 0 1 0 0 256zm-45.7 48C79.8 304 0 383.8 0 482.3C0 498.7 13.3 512 29.7 512H418.3c16.4 0 29.7-13.3 29.7-29.7C448 383.8 368.2 304 269.7 304H178.3z"/></svg><div class="t nw" style="left:44.77px;top:84.71px;font-size:32px;color:#f1f2fc;letter-spacing:0.2px;-webkit-text-stroke:0.4px #f1f2fc;transform:scaleY(1.054);transform-origin:0 84.65%;">Hugo Rye</div><div class="b" style="left:9.7px;top:133px;width:119.72px;height:41px;overflow:hidden;"><div class="b" style="left:0px;top:0px;width:31px;height:40.8px;background:#e8732a;border-radius:8.5px;overflow:hidden;"><svg class="b" style="left:15.2px;top:8.7px;fill:#111" width="24.6" height="24.5" viewBox="0 0 512 512"><path d="M352 320c88.4 0 160-71.6 160-160c0-15.3-2.2-30.1-6.2-44.2c-3.1-10.8-16.4-13.2-24.3-5.3l-76.8 76.8c-3 3-7.1 4.7-11.3 4.7H336c-8.8 0-16-7.2-16-16V118.6c0-4.2 1.7-8.3 4.7-11.3l76.8-76.8c7.9-7.9 5.4-21.2-5.3-24.3C382.1 2.2 367.3 0 352 0C263.6 0 192 71.6 192 160c0 19.1 3.4 37.5 9.5 54.5L19.9 396.1C7.2 408.8 0 426.1 0 444.1C0 481.6 30.4 512 67.9 512c18 0 35.3-7.2 48-19.9L297.5 310.5c17 6.2 35.4 9.5 54.5 9.5zM80 408a24 24 0 1 1 0 48 24 24 0 1 1 0-48z"/></svg></div><div class="t nw" style="left:38.4px;top:6.05px;font-size:24.51px;color:#f1f2fc;-webkit-text-stroke:0.4px #f1f2fc;transform:scaleY(1.009);transform-origin:0 84.65%;">+1 more</div></div></div><div class="b" style="left:1583.24px;top:337.2px;width:139.12px;height:184.2px;background:#5161ef;border-radius:4px;overflow:hidden;"><div class="t nw" style="left:10.77px;top:16.49px;font-size:38.4px;font-weight:700;color:#f1f2fc;-webkit-text-stroke:0.35px #5161ef;transform:scaleY(1.054);transform-origin:0 84.65%;">Thu A Maternity</div><svg class="b" style="left:10px;top:83.8px;fill:#f1f2fc" width="28.2" height="32.3" viewBox="0 0 448 512"><path d="M224 256A128 128 0 1 0 224 0a128 128 0 1 0 0 256zm-45.7 48C79.8 304 0 383.8 0 482.3C0 498.7 13.3 512 29.7 512H418.3c16.4 0 29.7-13.3 29.7-29.7C448 383.8 368.2 304 269.7 304H178.3z"/></svg><div class="t nw" style="left:45.77px;top:84.71px;font-size:32px;color:#f1f2fc;letter-spacing:0.2px;-webkit-text-stroke:0.4px #f1f2fc;transform:scaleY(1.054);transform-origin:0 84.65%;">Carl Rose</div><div class="b" style="left:9.7px;top:133px;width:119.72px;height:41px;overflow:hidden;"><div class="b" style="left:0px;top:0px;width:31px;height:40.8px;background:#8a56c4;border-radius:8.5px;overflow:hidden;"><svg class="b" style="left:15.2px;top:8.7px;fill:#fff" width="24.6" height="24.5" viewBox="0 0 512 512"><path d="M352 320c88.4 0 160-71.6 160-160c0-15.3-2.2-30.1-6.2-44.2c-3.1-10.8-16.4-13.2-24.3-5.3l-76.8 76.8c-3 3-7.1 4.7-11.3 4.7H336c-8.8 0-16-7.2-16-16V118.6c0-4.2 1.7-8.3 4.7-11.3l76.8-76.8c7.9-7.9 5.4-21.2-5.3-24.3C382.1 2.2 367.3 0 352 0C263.6 0 192 71.6 192 160c0 19.1 3.4 37.5 9.5 54.5L19.9 396.1C7.2 408.8 0 426.1 0 444.1C0 481.6 30.4 512 67.9 512c18 0 35.3-7.2 48-19.9L297.5 310.5c17 6.2 35.4 9.5 54.5 9.5zM80 408a24 24 0 1 1 0 48 24 24 0 1 1 0-48z"/></svg></div><div class="t nw" style="left:38.4px;top:6.05px;font-size:24.51px;color:#f1f2fc;-webkit-text-stroke:0.4px #f1f2fc;transform:scaleY(1.009);transform-origin:0 84.65%;">+1 more</div></div></div><div class="b" style="left:1583.24px;top:541.4px;width:139.12px;height:184.2px;background:#5161ef;border-radius:4px;overflow:hidden;"><div class="t nw" style="left:10.77px;top:16.49px;font-size:38.4px;font-weight:700;color:#f1f2fc;-webkit-text-stroke:0.35px #5161ef;transform:scaleY(1.054);transform-origin:0 84.65%;">Thu A Maternity</div><svg class="b" style="left:10px;top:83.8px;fill:#f1f2fc" width="28.2" height="32.3" viewBox="0 0 448 512"><path d="M224 256A128 128 0 1 0 224 0a128 128 0 1 0 0 256zm-45.7 48C79.8 304 0 383.8 0 482.3C0 498.7 13.3 512 29.7 512H418.3c16.4 0 29.7-13.3 29.7-29.7C448 383.8 368.2 304 269.7 304H178.3z"/></svg><div class="t nw" style="left:44.77px;top:84.71px;font-size:32px;color:#f1f2fc;letter-spacing:0.2px;-webkit-text-stroke:0.4px #f1f2fc;transform:scaleY(1.054);transform-origin:0 84.65%;">Beth Fox</div><div class="b" style="left:9.7px;top:133px;width:119.72px;height:41px;overflow:hidden;"><div class="b" style="left:0px;top:0px;width:31px;height:40.8px;background:#8a56c4;border-radius:8.5px;overflow:hidden;"><svg class="b" style="left:15.2px;top:8.7px;fill:#fff" width="24.6" height="24.5" viewBox="0 0 512 512"><path d="M352 320c88.4 0 160-71.6 160-160c0-15.3-2.2-30.1-6.2-44.2c-3.1-10.8-16.4-13.2-24.3-5.3l-76.8 76.8c-3 3-7.1 4.7-11.3 4.7H336c-8.8 0-16-7.2-16-16V118.6c0-4.2 1.7-8.3 4.7-11.3l76.8-76.8c7.9-7.9 5.4-21.2-5.3-24.3C382.1 2.2 367.3 0 352 0C263.6 0 192 71.6 192 160c0 19.1 3.4 37.5 9.5 54.5L19.9 396.1C7.2 408.8 0 426.1 0 444.1C0 481.6 30.4 512 67.9 512c18 0 35.3-7.2 48-19.9L297.5 310.5c17 6.2 35.4 9.5 54.5 9.5zM80 408a24 24 0 1 1 0 48 24 24 0 1 1 0-48z"/></svg></div><div class="t nw" style="left:38.4px;top:6.05px;font-size:24.51px;color:#f1f2fc;-webkit-text-stroke:0.4px #f1f2fc;transform:scaleY(1.009);transform-origin:0 84.65%;">+1 more</div></div></div><div class="b" style="left:1722.36px;top:736.8px;width:139.12px;height:184.2px;background:#5fc767;border-radius:4px;overflow:hidden;"><div class="t nw" style="left:10.77px;top:16.49px;font-size:38.4px;font-weight:700;color:#11131c;-webkit-text-stroke:0.35px #5fc767;transform:scaleY(1.054);transform-origin:0 84.65%;">Thu N Maternity</div><svg class="b" style="left:10px;top:83.8px;fill:#11131c" width="28.2" height="32.3" viewBox="0 0 448 512"><path d="M224 256A128 128 0 1 0 224 0a128 128 0 1 0 0 256zm-45.7 48C79.8 304 0 383.8 0 482.3C0 498.7 13.3 512 29.7 512H418.3c16.4 0 29.7-13.3 29.7-29.7C448 383.8 368.2 304 269.7 304H178.3z"/></svg><div class="t nw" style="left:46.9px;top:84.71px;font-size:32px;color:#11131c;letter-spacing:0.2px;-webkit-text-stroke:0.4px #11131c;transform:scaleY(1.054);transform-origin:0 84.65%;">Jay Smith</div><div class="b" style="left:9.7px;top:133px;width:119.72px;height:41px;overflow:hidden;"><div class="b" style="left:0px;top:0px;width:31px;height:40.8px;background:#8a56c4;border-radius:8.5px;overflow:hidden;"><svg class="b" style="left:15.2px;top:8.7px;fill:#fff" width="24.6" height="24.5" viewBox="0 0 512 512"><path d="M352 320c88.4 0 160-71.6 160-160c0-15.3-2.2-30.1-6.2-44.2c-3.1-10.8-16.4-13.2-24.3-5.3l-76.8 76.8c-3 3-7.1 4.7-11.3 4.7H336c-8.8 0-16-7.2-16-16V118.6c0-4.2 1.7-8.3 4.7-11.3l76.8-76.8c7.9-7.9 5.4-21.2-5.3-24.3C382.1 2.2 367.3 0 352 0C263.6 0 192 71.6 192 160c0 19.1 3.4 37.5 9.5 54.5L19.9 396.1C7.2 408.8 0 426.1 0 444.1C0 481.6 30.4 512 67.9 512c18 0 35.3-7.2 48-19.9L297.5 310.5c17 6.2 35.4 9.5 54.5 9.5zM80 408a24 24 0 1 1 0 48 24 24 0 1 1 0-48z"/></svg></div><div class="t nw" style="left:38.4px;top:6.05px;font-size:24.51px;color:#11131c;-webkit-text-stroke:0.4px #11131c;transform:scaleY(1.009);transform-origin:0 84.65%;">+1 more</div></div></div><div class="b" style="left:1722.36px;top:941.4px;width:139.12px;height:184.2px;background:#5161ef;border-radius:4px;overflow:hidden;"><div class="t nw" style="left:10.77px;top:16.49px;font-size:38.4px;font-weight:700;color:#f1f2fc;-webkit-text-stroke:0.35px #5161ef;transform:scaleY(1.054);transform-origin:0 84.65%;">Thu N Maternity</div><svg class="b" style="left:10px;top:83.8px;fill:#f1f2fc" width="28.2" height="32.3" viewBox="0 0 448 512"><path d="M224 256A128 128 0 1 0 224 0a128 128 0 1 0 0 256zm-45.7 48C79.8 304 0 383.8 0 482.3C0 498.7 13.3 512 29.7 512H418.3c16.4 0 29.7-13.3 29.7-29.7C448 383.8 368.2 304 269.7 304H178.3z"/></svg><div class="t nw" style="left:44.77px;top:84.71px;font-size:32px;color:#f1f2fc;letter-spacing:0.2px;-webkit-text-stroke:0.4px #f1f2fc;transform:scaleY(1.054);transform-origin:0 84.65%;">Elsa Jones</div><div class="b" style="left:9.7px;top:133px;width:119.72px;height:41px;overflow:hidden;"><div class="b" style="left:0px;top:0px;width:31px;height:40.8px;background:#8a56c4;border-radius:8.5px;overflow:hidden;"><svg class="b" style="left:15.2px;top:8.7px;fill:#fff" width="24.6" height="24.5" viewBox="0 0 512 512"><path d="M352 320c88.4 0 160-71.6 160-160c0-15.3-2.2-30.1-6.2-44.2c-3.1-10.8-16.4-13.2-24.3-5.3l-76.8 76.8c-3 3-7.1 4.7-11.3 4.7H336c-8.8 0-16-7.2-16-16V118.6c0-4.2 1.7-8.3 4.7-11.3l76.8-76.8c7.9-7.9 5.4-21.2-5.3-24.3C382.1 2.2 367.3 0 352 0C263.6 0 192 71.6 192 160c0 19.1 3.4 37.5 9.5 54.5L19.9 396.1C7.2 408.8 0 426.1 0 444.1C0 481.6 30.4 512 67.9 512c18 0 35.3-7.2 48-19.9L297.5 310.5c17 6.2 35.4 9.5 54.5 9.5zM80 408a24 24 0 1 1 0 48 24 24 0 1 1 0-48z"/></svg></div><div class="t nw" style="left:38.4px;top:6.05px;font-size:24.51px;color:#f1f2fc;-webkit-text-stroke:0.4px #f1f2fc;transform:scaleY(1.009);transform-origin:0 84.65%;">+1 more</div></div></div><div class="b" style="left:1722.36px;top:1145.1px;width:139.12px;height:184.2px;background:#5161ef;border-radius:4px;overflow:hidden;"><div class="t nw" style="left:10.77px;top:16.49px;font-size:38.4px;font-weight:700;color:#f1f2fc;-webkit-text-stroke:0.35px #5161ef;transform:scaleY(1.054);transform-origin:0 84.65%;">Thu N Surgery</div><svg class="b" style="left:10px;top:83.8px;fill:#f1f2fc" width="28.2" height="32.3" viewBox="0 0 448 512"><path d="M224 256A128 128 0 1 0 224 0a128 128 0 1 0 0 256zm-45.7 48C79.8 304 0 383.8 0 482.3C0 498.7 13.3 512 29.7 512H418.3c16.4 0 29.7-13.3 29.7-29.7C448 383.8 368.2 304 269.7 304H178.3z"/></svg><div class="t nw" style="left:44.77px;top:84.71px;font-size:32px;color:#f1f2fc;letter-spacing:0.2px;-webkit-text-stroke:0.4px #f1f2fc;transform:scaleY(1.054);transform-origin:0 84.65%;">Flo King</div><div class="b" style="left:9.7px;top:133px;width:119.72px;height:41px;overflow:hidden;"><div class="b" style="left:0px;top:0px;width:31px;height:40.8px;background:#e8732a;border-radius:8.5px;overflow:hidden;"><svg class="b" style="left:15.2px;top:8.7px;fill:#111" width="24.6" height="24.5" viewBox="0 0 512 512"><path d="M352 320c88.4 0 160-71.6 160-160c0-15.3-2.2-30.1-6.2-44.2c-3.1-10.8-16.4-13.2-24.3-5.3l-76.8 76.8c-3 3-7.1 4.7-11.3 4.7H336c-8.8 0-16-7.2-16-16V118.6c0-4.2 1.7-8.3 4.7-11.3l76.8-76.8c7.9-7.9 5.4-21.2-5.3-24.3C382.1 2.2 367.3 0 352 0C263.6 0 192 71.6 192 160c0 19.1 3.4 37.5 9.5 54.5L19.9 396.1C7.2 408.8 0 426.1 0 444.1C0 481.6 30.4 512 67.9 512c18 0 35.3-7.2 48-19.9L297.5 310.5c17 6.2 35.4 9.5 54.5 9.5zM80 408a24 24 0 1 1 0 48 24 24 0 1 1 0-48z"/></svg></div><div class="t nw" style="left:38.4px;top:6.05px;font-size:24.51px;color:#f1f2fc;-webkit-text-stroke:0.4px #f1f2fc;transform:scaleY(1.009);transform-origin:0 84.65%;">+1 more</div></div></div><div class="b" style="left:1478.9px;top:1145.1px;width:69.56px;height:176px;background:#5161ef;border-radius:4px;overflow:hidden;"><div class="t nw" style="left:10.77px;top:16.49px;font-size:38.4px;font-weight:700;color:#f1f2fc;-webkit-text-stroke:0.35px #5161ef;transform:scaleY(1.054);transform-origin:0 84.65%;">Thu M Maternity</div><svg class="b" style="left:9.2px;top:75.6px;fill:#f1f2fc" width="40.4" height="32.3" viewBox="0 0 640 512"><path d="M38.8 5.1C28.4-3.1 13.3-1.2 5.1 9.2S-1.2 34.7 9.2 42.9l592 464c10.4 8.2 25.5 6.3 33.7-4.1s6.3-25.5-4.1-33.7L353.3 251.6C407.9 237 448 187.2 448 128C448 57.3 390.7 0 320 0C250.2 0 193.5 55.8 192 125.2L38.8 5.1zM264.3 304.3C170.5 309.4 96 387.2 96 482.3c0 16.4 13.3 29.7 29.7 29.7H514.3c3.9 0 7.6-.7 11-2.1l-261-205.6z"/></svg><div class="t nw" style="left:58.13px;top:76.71px;font-size:32px;color:#f1f2fc;letter-spacing:0.2px;-webkit-text-stroke:0.4px #f1f2fc;transform:scaleY(1.054);transform-origin:0 84.65%;">Unassigned</div><div class="b" style="left:9.7px;top:124.9px;width:50.16px;height:41px;overflow:hidden;"><div class="b" style="left:0px;top:0px;width:31px;height:40.8px;background:#8a56c4;border-radius:8.5px;overflow:hidden;"><svg class="b" style="left:15.2px;top:8.7px;fill:#fff" width="24.6" height="24.5" viewBox="0 0 512 512"><path d="M352 320c88.4 0 160-71.6 160-160c0-15.3-2.2-30.1-6.2-44.2c-3.1-10.8-16.4-13.2-24.3-5.3l-76.8 76.8c-3 3-7.1 4.7-11.3 4.7H336c-8.8 0-16-7.2-16-16V118.6c0-4.2 1.7-8.3 4.7-11.3l76.8-76.8c7.9-7.9 5.4-21.2-5.3-24.3C382.1 2.2 367.3 0 352 0C263.6 0 192 71.6 192 160c0 19.1 3.4 37.5 9.5 54.5L19.9 396.1C7.2 408.8 0 426.1 0 444.1C0 481.6 30.4 512 67.9 512c18 0 35.3-7.2 48-19.9L297.5 310.5c17 6.2 35.4 9.5 54.5 9.5zM80 408a24 24 0 1 1 0 48 24 24 0 1 1 0-48z"/></svg></div><div class="t nw" style="left:38.4px;top:6.05px;font-size:24.51px;color:#f1f2fc;-webkit-text-stroke:0.4px #f1f2fc;transform:scaleY(1.009);transform-origin:0 84.65%;">+1 more</div></div></div><div class="b" style="left:1444.12px;top:1341.4px;width:139.12px;height:184.2px;background:#5161ef;border-radius:4px;overflow:hidden;"><div class="t nw" style="left:10.77px;top:16.49px;font-size:38.4px;font-weight:700;color:#f1f2fc;-webkit-text-stroke:0.35px #5161ef;transform:scaleY(1.054);transform-origin:0 84.65%;">Thu M Maternity</div><svg class="b" style="left:10px;top:83.8px;fill:#f1f2fc" width="28.2" height="32.3" viewBox="0 0 448 512"><path d="M224 256A128 128 0 1 0 224 0a128 128 0 1 0 0 256zm-45.7 48C79.8 304 0 383.8 0 482.3C0 498.7 13.3 512 29.7 512H418.3c16.4 0 29.7-13.3 29.7-29.7C448 383.8 368.2 304 269.7 304H178.3z"/></svg><div class="t nw" style="left:44.45px;top:84.71px;font-size:32px;color:#f1f2fc;letter-spacing:0.2px;-webkit-text-stroke:0.4px #f1f2fc;transform:scaleY(1.054);transform-origin:0 84.65%;">Ivy Rye</div><div class="b" style="left:9.7px;top:133px;width:119.72px;height:41px;overflow:hidden;"><div class="b" style="left:0px;top:0px;width:31px;height:40.8px;background:#8a56c4;border-radius:8.5px;overflow:hidden;"><svg class="b" style="left:15.2px;top:8.7px;fill:#fff" width="24.6" height="24.5" viewBox="0 0 512 512"><path d="M352 320c88.4 0 160-71.6 160-160c0-15.3-2.2-30.1-6.2-44.2c-3.1-10.8-16.4-13.2-24.3-5.3l-76.8 76.8c-3 3-7.1 4.7-11.3 4.7H336c-8.8 0-16-7.2-16-16V118.6c0-4.2 1.7-8.3 4.7-11.3l76.8-76.8c7.9-7.9 5.4-21.2-5.3-24.3C382.1 2.2 367.3 0 352 0C263.6 0 192 71.6 192 160c0 19.1 3.4 37.5 9.5 54.5L19.9 396.1C7.2 408.8 0 426.1 0 444.1C0 481.6 30.4 512 67.9 512c18 0 35.3-7.2 48-19.9L297.5 310.5c17 6.2 35.4 9.5 54.5 9.5zM80 408a24 24 0 1 1 0 48 24 24 0 1 1 0-48z"/></svg></div><div class="t nw" style="left:38.4px;top:6.05px;font-size:24.51px;color:#f1f2fc;-webkit-text-stroke:0.4px #f1f2fc;transform:scaleY(1.009);transform-origin:0 84.65%;">+1 more</div></div></div><div class="b" style="left:1861.48px;top:541.4px;width:139.12px;height:176px;background:#5161ef;border-radius:4px;overflow:hidden;"><div class="t nw" style="left:8.63px;top:16.49px;font-size:38.4px;font-weight:700;color:#f1f2fc;-webkit-text-stroke:0.35px #5161ef;transform:scaleY(1.054);transform-origin:0 84.65%;">Fri M Maternity</div><svg class="b" style="left:9.2px;top:75.6px;fill:#f1f2fc" width="40.4" height="32.3" viewBox="0 0 640 512"><path d="M38.8 5.1C28.4-3.1 13.3-1.2 5.1 9.2S-1.2 34.7 9.2 42.9l592 464c10.4 8.2 25.5 6.3 33.7-4.1s6.3-25.5-4.1-33.7L353.3 251.6C407.9 237 448 187.2 448 128C448 57.3 390.7 0 320 0C250.2 0 193.5 55.8 192 125.2L38.8 5.1zM264.3 304.3C170.5 309.4 96 387.2 96 482.3c0 16.4 13.3 29.7 29.7 29.7H514.3c3.9 0 7.6-.7 11-2.1l-261-205.6z"/></svg><div class="t nw" style="left:58.13px;top:76.71px;font-size:32px;color:#f1f2fc;letter-spacing:0.2px;-webkit-text-stroke:0.4px #f1f2fc;transform:scaleY(1.054);transform-origin:0 84.65%;">Unassigned</div><div class="b" style="left:9.7px;top:124.9px;width:119.72px;height:41px;overflow:hidden;"><div class="b" style="left:0px;top:0px;width:31px;height:40.8px;background:#8a56c4;border-radius:8.5px;overflow:hidden;"><svg class="b" style="left:15.2px;top:8.7px;fill:#fff" width="24.6" height="24.5" viewBox="0 0 512 512"><path d="M352 320c88.4 0 160-71.6 160-160c0-15.3-2.2-30.1-6.2-44.2c-3.1-10.8-16.4-13.2-24.3-5.3l-76.8 76.8c-3 3-7.1 4.7-11.3 4.7H336c-8.8 0-16-7.2-16-16V118.6c0-4.2 1.7-8.3 4.7-11.3l76.8-76.8c7.9-7.9 5.4-21.2-5.3-24.3C382.1 2.2 367.3 0 352 0C263.6 0 192 71.6 192 160c0 19.1 3.4 37.5 9.5 54.5L19.9 396.1C7.2 408.8 0 426.1 0 444.1C0 481.6 30.4 512 67.9 512c18 0 35.3-7.2 48-19.9L297.5 310.5c17 6.2 35.4 9.5 54.5 9.5zM80 408a24 24 0 1 1 0 48 24 24 0 1 1 0-48z"/></svg></div><div class="t nw" style="left:38.4px;top:6.05px;font-size:24.51px;color:#f1f2fc;-webkit-text-stroke:0.4px #f1f2fc;transform:scaleY(1.009);transform-origin:0 84.65%;">+1 more</div></div></div><div class="b" style="left:2139.72px;top:525.3px;width:139.12px;height:184.2px;background:#5161ef;border-radius:4px;overflow:hidden;"><div class="t nw" style="left:8.63px;top:16.49px;font-size:38.4px;font-weight:700;color:#f1f2fc;-webkit-text-stroke:0.35px #5161ef;transform:scaleY(1.054);transform-origin:0 84.65%;">Fri N Surgery</div><svg class="b" style="left:10px;top:83.8px;fill:#f1f2fc" width="28.2" height="32.3" viewBox="0 0 448 512"><path d="M224 256A128 128 0 1 0 224 0a128 128 0 1 0 0 256zm-45.7 48C79.8 304 0 383.8 0 482.3C0 498.7 13.3 512 29.7 512H418.3c16.4 0 29.7-13.3 29.7-29.7C448 383.8 368.2 304 269.7 304H178.3z"/></svg><div class="t nw" style="left:44.77px;top:84.71px;font-size:32px;color:#f1f2fc;letter-spacing:0.2px;-webkit-text-stroke:0.4px #f1f2fc;transform:scaleY(1.054);transform-origin:0 84.65%;">Flo King</div><div class="b" style="left:9.7px;top:133px;width:119.72px;height:41px;overflow:hidden;"><div class="b" style="left:0px;top:0px;width:31px;height:40.8px;background:#e8732a;border-radius:8.5px;overflow:hidden;"><svg class="b" style="left:15.2px;top:8.7px;fill:#111" width="24.6" height="24.5" viewBox="0 0 512 512"><path d="M352 320c88.4 0 160-71.6 160-160c0-15.3-2.2-30.1-6.2-44.2c-3.1-10.8-16.4-13.2-24.3-5.3l-76.8 76.8c-3 3-7.1 4.7-11.3 4.7H336c-8.8 0-16-7.2-16-16V118.6c0-4.2 1.7-8.3 4.7-11.3l76.8-76.8c7.9-7.9 5.4-21.2-5.3-24.3C382.1 2.2 367.3 0 352 0C263.6 0 192 71.6 192 160c0 19.1 3.4 37.5 9.5 54.5L19.9 396.1C7.2 408.8 0 426.1 0 444.1C0 481.6 30.4 512 67.9 512c18 0 35.3-7.2 48-19.9L297.5 310.5c17 6.2 35.4 9.5 54.5 9.5zM80 408a24 24 0 1 1 0 48 24 24 0 1 1 0-48z"/></svg></div><div class="t nw" style="left:38.4px;top:6.05px;font-size:24.51px;color:#f1f2fc;-webkit-text-stroke:0.4px #f1f2fc;transform:scaleY(1.009);transform-origin:0 84.65%;">+1 more</div></div></div><div class="b" style="left:2000.6px;top:736.8px;width:139.12px;height:184.2px;background:#5161ef;border-radius:4px;overflow:hidden;"><div class="t nw" style="left:8.63px;top:16.49px;font-size:38.4px;font-weight:700;color:#f1f2fc;-webkit-text-stroke:0.35px #5161ef;transform:scaleY(1.054);transform-origin:0 84.65%;">Fri A Maternity</div><svg class="b" style="left:10px;top:83.8px;fill:#f1f2fc" width="28.2" height="32.3" viewBox="0 0 448 512"><path d="M224 256A128 128 0 1 0 224 0a128 128 0 1 0 0 256zm-45.7 48C79.8 304 0 383.8 0 482.3C0 498.7 13.3 512 29.7 512H418.3c16.4 0 29.7-13.3 29.7-29.7C448 383.8 368.2 304 269.7 304H178.3z"/></svg><div class="t nw" style="left:44.77px;top:84.71px;font-size:32px;color:#f1f2fc;letter-spacing:0.2px;-webkit-text-stroke:0.4px #f1f2fc;transform:scaleY(1.054);transform-origin:0 84.65%;">Beth Fox</div><div class="b" style="left:9.7px;top:133px;width:119.72px;height:41px;overflow:hidden;"><div class="b" style="left:0px;top:0px;width:31px;height:40.8px;background:#8a56c4;border-radius:8.5px;overflow:hidden;"><svg class="b" style="left:15.2px;top:8.7px;fill:#fff" width="24.6" height="24.5" viewBox="0 0 512 512"><path d="M352 320c88.4 0 160-71.6 160-160c0-15.3-2.2-30.1-6.2-44.2c-3.1-10.8-16.4-13.2-24.3-5.3l-76.8 76.8c-3 3-7.1 4.7-11.3 4.7H336c-8.8 0-16-7.2-16-16V118.6c0-4.2 1.7-8.3 4.7-11.3l76.8-76.8c7.9-7.9 5.4-21.2-5.3-24.3C382.1 2.2 367.3 0 352 0C263.6 0 192 71.6 192 160c0 19.1 3.4 37.5 9.5 54.5L19.9 396.1C7.2 408.8 0 426.1 0 444.1C0 481.6 30.4 512 67.9 512c18 0 35.3-7.2 48-19.9L297.5 310.5c17 6.2 35.4 9.5 54.5 9.5zM80 408a24 24 0 1 1 0 48 24 24 0 1 1 0-48z"/></svg></div><div class="t nw" style="left:38.4px;top:6.05px;font-size:24.51px;color:#f1f2fc;-webkit-text-stroke:0.4px #f1f2fc;transform:scaleY(1.009);transform-origin:0 84.65%;">+1 more</div></div></div><div class="b" style="left:2000.6px;top:941.4px;width:139.12px;height:184.2px;background:#5161ef;border-radius:4px;overflow:hidden;"><div class="t nw" style="left:8.63px;top:16.49px;font-size:38.4px;font-weight:700;color:#f1f2fc;-webkit-text-stroke:0.35px #5161ef;transform:scaleY(1.054);transform-origin:0 84.65%;">Fri A Maternity</div><svg class="b" style="left:10px;top:83.8px;fill:#f1f2fc" width="28.2" height="32.3" viewBox="0 0 448 512"><path d="M224 256A128 128 0 1 0 224 0a128 128 0 1 0 0 256zm-45.7 48C79.8 304 0 383.8 0 482.3C0 498.7 13.3 512 29.7 512H418.3c16.4 0 29.7-13.3 29.7-29.7C448 383.8 368.2 304 269.7 304H178.3z"/></svg><div class="t nw" style="left:45.77px;top:84.71px;font-size:32px;color:#f1f2fc;letter-spacing:0.2px;-webkit-text-stroke:0.4px #f1f2fc;transform:scaleY(1.054);transform-origin:0 84.65%;">Carl Rose</div><div class="b" style="left:9.7px;top:133px;width:119.72px;height:41px;overflow:hidden;"><div class="b" style="left:0px;top:0px;width:31px;height:40.8px;background:#8a56c4;border-radius:8.5px;overflow:hidden;"><svg class="b" style="left:15.2px;top:8.7px;fill:#fff" width="24.6" height="24.5" viewBox="0 0 512 512"><path d="M352 320c88.4 0 160-71.6 160-160c0-15.3-2.2-30.1-6.2-44.2c-3.1-10.8-16.4-13.2-24.3-5.3l-76.8 76.8c-3 3-7.1 4.7-11.3 4.7H336c-8.8 0-16-7.2-16-16V118.6c0-4.2 1.7-8.3 4.7-11.3l76.8-76.8c7.9-7.9 5.4-21.2-5.3-24.3C382.1 2.2 367.3 0 352 0C263.6 0 192 71.6 192 160c0 19.1 3.4 37.5 9.5 54.5L19.9 396.1C7.2 408.8 0 426.1 0 444.1C0 481.6 30.4 512 67.9 512c18 0 35.3-7.2 48-19.9L297.5 310.5c17 6.2 35.4 9.5 54.5 9.5zM80 408a24 24 0 1 1 0 48 24 24 0 1 1 0-48z"/></svg></div><div class="t nw" style="left:38.4px;top:6.05px;font-size:24.51px;color:#f1f2fc;-webkit-text-stroke:0.4px #f1f2fc;transform:scaleY(1.009);transform-origin:0 84.65%;">+1 more</div></div></div><div class="b" style="left:2000.6px;top:1145.1px;width:139.12px;height:184.2px;background:#5161ef;border-radius:4px;overflow:hidden;"><div class="t nw" style="left:8.63px;top:16.49px;font-size:38.4px;font-weight:700;color:#f1f2fc;-webkit-text-stroke:0.35px #5161ef;transform:scaleY(1.054);transform-origin:0 84.65%;">Fri A Surgery</div><svg class="b" style="left:10px;top:83.8px;fill:#f1f2fc" width="28.2" height="32.3" viewBox="0 0 448 512"><path d="M224 256A128 128 0 1 0 224 0a128 128 0 1 0 0 256zm-45.7 48C79.8 304 0 383.8 0 482.3C0 498.7 13.3 512 29.7 512H418.3c16.4 0 29.7-13.3 29.7-29.7C448 383.8 368.2 304 269.7 304H178.3z"/></svg><div class="t nw" style="left:45.79px;top:84.71px;font-size:32px;color:#f1f2fc;letter-spacing:0.2px;-webkit-text-stroke:0.4px #f1f2fc;transform:scaleY(1.054);transform-origin:0 84.65%;">Gus Li</div><div class="b" style="left:9.7px;top:133px;width:119.72px;height:41px;overflow:hidden;"><div class="b" style="left:0px;top:0px;width:31px;height:40.8px;background:#e8732a;border-radius:8.5px;overflow:hidden;"><svg class="b" style="left:15.2px;top:8.7px;fill:#111" width="24.6" height="24.5" viewBox="0 0 512 512"><path d="M352 320c88.4 0 160-71.6 160-160c0-15.3-2.2-30.1-6.2-44.2c-3.1-10.8-16.4-13.2-24.3-5.3l-76.8 76.8c-3 3-7.1 4.7-11.3 4.7H336c-8.8 0-16-7.2-16-16V118.6c0-4.2 1.7-8.3 4.7-11.3l76.8-76.8c7.9-7.9 5.4-21.2-5.3-24.3C382.1 2.2 367.3 0 352 0C263.6 0 192 71.6 192 160c0 19.1 3.4 37.5 9.5 54.5L19.9 396.1C7.2 408.8 0 426.1 0 444.1C0 481.6 30.4 512 67.9 512c18 0 35.3-7.2 48-19.9L297.5 310.5c17 6.2 35.4 9.5 54.5 9.5zM80 408a24 24 0 1 1 0 48 24 24 0 1 1 0-48z"/></svg></div><div class="t nw" style="left:38.4px;top:6.05px;font-size:24.51px;color:#f1f2fc;-webkit-text-stroke:0.4px #f1f2fc;transform:scaleY(1.009);transform-origin:0 84.65%;">+1 more</div></div></div><div class="b" style="left:1861.48px;top:1349.4px;width:139.12px;height:184.2px;background:#5161ef;border-radius:4px;overflow:hidden;"><div class="t nw" style="left:8.63px;top:16.49px;font-size:38.4px;font-weight:700;color:#f1f2fc;-webkit-text-stroke:0.35px #5161ef;transform:scaleY(1.054);transform-origin:0 84.65%;">Fri M Maternity</div><svg class="b" style="left:10px;top:83.8px;fill:#f1f2fc" width="28.2" height="32.3" viewBox="0 0 448 512"><path d="M224 256A128 128 0 1 0 224 0a128 128 0 1 0 0 256zm-45.7 48C79.8 304 0 383.8 0 482.3C0 498.7 13.3 512 29.7 512H418.3c16.4 0 29.7-13.3 29.7-29.7C448 383.8 368.2 304 269.7 304H178.3z"/></svg><div class="t nw" style="left:44.45px;top:84.71px;font-size:32px;color:#f1f2fc;letter-spacing:0.2px;-webkit-text-stroke:0.4px #f1f2fc;transform:scaleY(1.054);transform-origin:0 84.65%;">Ivy Rye</div><div class="b" style="left:9.7px;top:133px;width:119.72px;height:41px;overflow:hidden;"><div class="b" style="left:0px;top:0px;width:31px;height:40.8px;background:#8a56c4;border-radius:8.5px;overflow:hidden;"><svg class="b" style="left:15.2px;top:8.7px;fill:#fff" width="24.6" height="24.5" viewBox="0 0 512 512"><path d="M352 320c88.4 0 160-71.6 160-160c0-15.3-2.2-30.1-6.2-44.2c-3.1-10.8-16.4-13.2-24.3-5.3l-76.8 76.8c-3 3-7.1 4.7-11.3 4.7H336c-8.8 0-16-7.2-16-16V118.6c0-4.2 1.7-8.3 4.7-11.3l76.8-76.8c7.9-7.9 5.4-21.2-5.3-24.3C382.1 2.2 367.3 0 352 0C263.6 0 192 71.6 192 160c0 19.1 3.4 37.5 9.5 54.5L19.9 396.1C7.2 408.8 0 426.1 0 444.1C0 481.6 30.4 512 67.9 512c18 0 35.3-7.2 48-19.9L297.5 310.5c17 6.2 35.4 9.5 54.5 9.5zM80 408a24 24 0 1 1 0 48 24 24 0 1 1 0-48z"/></svg></div><div class="t nw" style="left:38.4px;top:6.05px;font-size:24.51px;color:#f1f2fc;-webkit-text-stroke:0.4px #f1f2fc;transform:scaleY(1.009);transform-origin:0 84.65%;">+1 more</div></div></div><div class="b" style="left:2139.72px;top:1349.4px;width:139.12px;height:184.2px;background:#5161ef;border-radius:4px;overflow:hidden;"><div class="t nw" style="left:8.63px;top:16.49px;font-size:38.4px;font-weight:700;color:#f1f2fc;-webkit-text-stroke:0.35px #5161ef;transform:scaleY(1.054);transform-origin:0 84.65%;">Fri N Maternity</div><svg class="b" style="left:10px;top:83.8px;fill:#f1f2fc" width="28.2" height="32.3" viewBox="0 0 448 512"><path d="M224 256A128 128 0 1 0 224 0a128 128 0 1 0 0 256zm-45.7 48C79.8 304 0 383.8 0 482.3C0 498.7 13.3 512 29.7 512H418.3c16.4 0 29.7-13.3 29.7-29.7C448 383.8 368.2 304 269.7 304H178.3z"/></svg><div class="t nw" style="left:44.77px;top:84.71px;font-size:32px;color:#f1f2fc;letter-spacing:0.2px;-webkit-text-stroke:0.4px #f1f2fc;transform:scaleY(1.054);transform-origin:0 84.65%;">Elsa Jones</div><div class="b" style="left:9.7px;top:133px;width:119.72px;height:41px;overflow:hidden;"><div class="b" style="left:0px;top:0px;width:31px;height:40.8px;background:#8a56c4;border-radius:8.5px;overflow:hidden;"><svg class="b" style="left:15.2px;top:8.7px;fill:#fff" width="24.6" height="24.5" viewBox="0 0 512 512"><path d="M352 320c88.4 0 160-71.6 160-160c0-15.3-2.2-30.1-6.2-44.2c-3.1-10.8-16.4-13.2-24.3-5.3l-76.8 76.8c-3 3-7.1 4.7-11.3 4.7H336c-8.8 0-16-7.2-16-16V118.6c0-4.2 1.7-8.3 4.7-11.3l76.8-76.8c7.9-7.9 5.4-21.2-5.3-24.3C382.1 2.2 367.3 0 352 0C263.6 0 192 71.6 192 160c0 19.1 3.4 37.5 9.5 54.5L19.9 396.1C7.2 408.8 0 426.1 0 444.1C0 481.6 30.4 512 67.9 512c18 0 35.3-7.2 48-19.9L297.5 310.5c17 6.2 35.4 9.5 54.5 9.5zM80 408a24 24 0 1 1 0 48 24 24 0 1 1 0-48z"/></svg></div><div class="t nw" style="left:38.4px;top:6.05px;font-size:24.51px;color:#f1f2fc;-webkit-text-stroke:0.4px #f1f2fc;transform:scaleY(1.009);transform-origin:0 84.65%;">+1 more</div></div></div><div class="b" style="left:2278.84px;top:728.9px;width:139.12px;height:184.2px;background:#5161ef;border-radius:4px;overflow:hidden;"><div class="t nw" style="left:10.09px;top:16.49px;font-size:38.4px;font-weight:700;color:#f1f2fc;-webkit-text-stroke:0.35px #5161ef;transform:scaleY(1.054);transform-origin:0 84.65%;">Sat M Maternity</div><svg class="b" style="left:10px;top:83.8px;fill:#f1f2fc" width="28.2" height="32.3" viewBox="0 0 448 512"><path d="M224 256A128 128 0 1 0 224 0a128 128 0 1 0 0 256zm-45.7 48C79.8 304 0 383.8 0 482.3C0 498.7 13.3 512 29.7 512H418.3c16.4 0 29.7-13.3 29.7-29.7C448 383.8 368.2 304 269.7 304H178.3z"/></svg><div class="t nw" style="left:44.77px;top:84.71px;font-size:32px;color:#f1f2fc;letter-spacing:0.2px;-webkit-text-stroke:0.4px #f1f2fc;transform:scaleY(1.054);transform-origin:0 84.65%;">Hugo Rye</div><div class="b" style="left:9.7px;top:133px;width:119.72px;height:41px;overflow:hidden;"><div class="b" style="left:0px;top:0px;width:31px;height:40.8px;background:#8a56c4;border-radius:8.5px;overflow:hidden;"><svg class="b" style="left:15.2px;top:8.7px;fill:#fff" width="24.6" height="24.5" viewBox="0 0 512 512"><path d="M352 320c88.4 0 160-71.6 160-160c0-15.3-2.2-30.1-6.2-44.2c-3.1-10.8-16.4-13.2-24.3-5.3l-76.8 76.8c-3 3-7.1 4.7-11.3 4.7H336c-8.8 0-16-7.2-16-16V118.6c0-4.2 1.7-8.3 4.7-11.3l76.8-76.8c7.9-7.9 5.4-21.2-5.3-24.3C382.1 2.2 367.3 0 352 0C263.6 0 192 71.6 192 160c0 19.1 3.4 37.5 9.5 54.5L19.9 396.1C7.2 408.8 0 426.1 0 444.1C0 481.6 30.4 512 67.9 512c18 0 35.3-7.2 48-19.9L297.5 310.5c17 6.2 35.4 9.5 54.5 9.5zM80 408a24 24 0 1 1 0 48 24 24 0 1 1 0-48z"/></svg></div><div class="t nw" style="left:38.4px;top:6.05px;font-size:24.51px;color:#f1f2fc;-webkit-text-stroke:0.4px #f1f2fc;transform:scaleY(1.009);transform-origin:0 84.65%;">+1 more</div></div></div><div class="b" style="left:2557.08px;top:728.9px;width:139.12px;height:184.2px;background:#5161ef;border-radius:4px;overflow:hidden;"><div class="t nw" style="left:10.09px;top:16.49px;font-size:38.4px;font-weight:700;color:#f1f2fc;-webkit-text-stroke:0.35px #5161ef;transform:scaleY(1.054);transform-origin:0 84.65%;">Sat N Surgery</div><svg class="b" style="left:10px;top:83.8px;fill:#f1f2fc" width="28.2" height="32.3" viewBox="0 0 448 512"><path d="M224 256A128 128 0 1 0 224 0a128 128 0 1 0 0 256zm-45.7 48C79.8 304 0 383.8 0 482.3C0 498.7 13.3 512 29.7 512H418.3c16.4 0 29.7-13.3 29.7-29.7C448 383.8 368.2 304 269.7 304H178.3z"/></svg><div class="t nw" style="left:44.77px;top:84.71px;font-size:32px;color:#f1f2fc;letter-spacing:0.2px;-webkit-text-stroke:0.4px #f1f2fc;transform:scaleY(1.054);transform-origin:0 84.65%;">Flo King</div><div class="b" style="left:9.7px;top:133px;width:119.72px;height:41px;overflow:hidden;"><div class="b" style="left:0px;top:0px;width:31px;height:40.8px;background:#e8732a;border-radius:8.5px;overflow:hidden;"><svg class="b" style="left:15.2px;top:8.7px;fill:#111" width="24.6" height="24.5" viewBox="0 0 512 512"><path d="M352 320c88.4 0 160-71.6 160-160c0-15.3-2.2-30.1-6.2-44.2c-3.1-10.8-16.4-13.2-24.3-5.3l-76.8 76.8c-3 3-7.1 4.7-11.3 4.7H336c-8.8 0-16-7.2-16-16V118.6c0-4.2 1.7-8.3 4.7-11.3l76.8-76.8c7.9-7.9 5.4-21.2-5.3-24.3C382.1 2.2 367.3 0 352 0C263.6 0 192 71.6 192 160c0 19.1 3.4 37.5 9.5 54.5L19.9 396.1C7.2 408.8 0 426.1 0 444.1C0 481.6 30.4 512 67.9 512c18 0 35.3-7.2 48-19.9L297.5 310.5c17 6.2 35.4 9.5 54.5 9.5zM80 408a24 24 0 1 1 0 48 24 24 0 1 1 0-48z"/></svg></div><div class="t nw" style="left:38.4px;top:6.05px;font-size:24.51px;color:#f1f2fc;-webkit-text-stroke:0.4px #f1f2fc;transform:scaleY(1.009);transform-origin:0 84.65%;">+1 more</div></div></div><div class="b" style="left:2278.84px;top:933px;width:139.12px;height:184.2px;background:#5161ef;border-radius:4px;overflow:hidden;"><div class="t nw" style="left:10.09px;top:16.49px;font-size:38.4px;font-weight:700;color:#f1f2fc;-webkit-text-stroke:0.35px #5161ef;transform:scaleY(1.054);transform-origin:0 84.65%;">Sat M Maternity</div><svg class="b" style="left:10px;top:83.8px;fill:#f1f2fc" width="28.2" height="32.3" viewBox="0 0 448 512"><path d="M224 256A128 128 0 1 0 224 0a128 128 0 1 0 0 256zm-45.7 48C79.8 304 0 383.8 0 482.3C0 498.7 13.3 512 29.7 512H418.3c16.4 0 29.7-13.3 29.7-29.7C448 383.8 368.2 304 269.7 304H178.3z"/></svg><div class="t nw" style="left:44.77px;top:84.71px;font-size:32px;color:#f1f2fc;letter-spacing:0.2px;-webkit-text-stroke:0.4px #f1f2fc;transform:scaleY(1.054);transform-origin:0 84.65%;">Dan Green</div><div class="b" style="left:9.7px;top:133px;width:119.72px;height:41px;overflow:hidden;"><div class="b" style="left:0px;top:0px;width:31px;height:40.8px;background:#8a56c4;border-radius:8.5px;overflow:hidden;"><svg class="b" style="left:15.2px;top:8.7px;fill:#fff" width="24.6" height="24.5" viewBox="0 0 512 512"><path d="M352 320c88.4 0 160-71.6 160-160c0-15.3-2.2-30.1-6.2-44.2c-3.1-10.8-16.4-13.2-24.3-5.3l-76.8 76.8c-3 3-7.1 4.7-11.3 4.7H336c-8.8 0-16-7.2-16-16V118.6c0-4.2 1.7-8.3 4.7-11.3l76.8-76.8c7.9-7.9 5.4-21.2-5.3-24.3C382.1 2.2 367.3 0 352 0C263.6 0 192 71.6 192 160c0 19.1 3.4 37.5 9.5 54.5L19.9 396.1C7.2 408.8 0 426.1 0 444.1C0 481.6 30.4 512 67.9 512c18 0 35.3-7.2 48-19.9L297.5 310.5c17 6.2 35.4 9.5 54.5 9.5zM80 408a24 24 0 1 1 0 48 24 24 0 1 1 0-48z"/></svg></div><div class="t nw" style="left:38.4px;top:6.05px;font-size:24.51px;color:#f1f2fc;-webkit-text-stroke:0.4px #f1f2fc;transform:scaleY(1.009);transform-origin:0 84.65%;">+1 more</div></div></div><div class="b" style="left:2557.08px;top:933px;width:139.12px;height:184.2px;background:#5fc767;border-radius:4px;overflow:hidden;"><div class="t nw" style="left:10.09px;top:16.49px;font-size:38.4px;font-weight:700;color:#11131c;-webkit-text-stroke:0.35px #5fc767;transform:scaleY(1.054);transform-origin:0 84.65%;">Sat N Maternity</div><svg class="b" style="left:10px;top:83.8px;fill:#11131c" width="28.2" height="32.3" viewBox="0 0 448 512"><path d="M224 256A128 128 0 1 0 224 0a128 128 0 1 0 0 256zm-45.7 48C79.8 304 0 383.8 0 482.3C0 498.7 13.3 512 29.7 512H418.3c16.4 0 29.7-13.3 29.7-29.7C448 383.8 368.2 304 269.7 304H178.3z"/></svg><div class="t nw" style="left:46.9px;top:84.71px;font-size:32px;color:#11131c;letter-spacing:0.2px;-webkit-text-stroke:0.4px #11131c;transform:scaleY(1.054);transform-origin:0 84.65%;">Jay Smith</div><div class="b" style="left:9.7px;top:133px;width:119.72px;height:41px;overflow:hidden;"><div class="b" style="left:0px;top:0px;width:31px;height:40.8px;background:#8a56c4;border-radius:8.5px;overflow:hidden;"><svg class="b" style="left:15.2px;top:8.7px;fill:#fff" width="24.6" height="24.5" viewBox="0 0 512 512"><path d="M352 320c88.4 0 160-71.6 160-160c0-15.3-2.2-30.1-6.2-44.2c-3.1-10.8-16.4-13.2-24.3-5.3l-76.8 76.8c-3 3-7.1 4.7-11.3 4.7H336c-8.8 0-16-7.2-16-16V118.6c0-4.2 1.7-8.3 4.7-11.3l76.8-76.8c7.9-7.9 5.4-21.2-5.3-24.3C382.1 2.2 367.3 0 352 0C263.6 0 192 71.6 192 160c0 19.1 3.4 37.5 9.5 54.5L19.9 396.1C7.2 408.8 0 426.1 0 444.1C0 481.6 30.4 512 67.9 512c18 0 35.3-7.2 48-19.9L297.5 310.5c17 6.2 35.4 9.5 54.5 9.5zM80 408a24 24 0 1 1 0 48 24 24 0 1 1 0-48z"/></svg></div><div class="t nw" style="left:38.4px;top:6.05px;font-size:24.51px;color:#11131c;-webkit-text-stroke:0.4px #11131c;transform:scaleY(1.009);transform-origin:0 84.65%;">+1 more</div></div></div><div class="b" style="left:2417.96px;top:1137.1px;width:139.12px;height:184.2px;background:#5161ef;border-radius:4px;overflow:hidden;"><div class="t nw" style="left:10.09px;top:16.49px;font-size:38.4px;font-weight:700;color:#f1f2fc;-webkit-text-stroke:0.35px #5161ef;transform:scaleY(1.054);transform-origin:0 84.65%;">Sat A Maternity</div><svg class="b" style="left:10px;top:83.8px;fill:#f1f2fc" width="28.2" height="32.3" viewBox="0 0 448 512"><path d="M224 256A128 128 0 1 0 224 0a128 128 0 1 0 0 256zm-45.7 48C79.8 304 0 383.8 0 482.3C0 498.7 13.3 512 29.7 512H418.3c16.4 0 29.7-13.3 29.7-29.7C448 383.8 368.2 304 269.7 304H178.3z"/></svg><div class="t nw" style="left:44.77px;top:84.71px;font-size:32px;color:#f1f2fc;letter-spacing:0.2px;-webkit-text-stroke:0.4px #f1f2fc;transform:scaleY(1.054);transform-origin:0 84.65%;">Beth Fox</div><div class="b" style="left:9.7px;top:133px;width:119.72px;height:41px;overflow:hidden;"><div class="b" style="left:0px;top:0px;width:31px;height:40.8px;background:#8a56c4;border-radius:8.5px;overflow:hidden;"><svg class="b" style="left:15.2px;top:8.7px;fill:#fff" width="24.6" height="24.5" viewBox="0 0 512 512"><path d="M352 320c88.4 0 160-71.6 160-160c0-15.3-2.2-30.1-6.2-44.2c-3.1-10.8-16.4-13.2-24.3-5.3l-76.8 76.8c-3 3-7.1 4.7-11.3 4.7H336c-8.8 0-16-7.2-16-16V118.6c0-4.2 1.7-8.3 4.7-11.3l76.8-76.8c7.9-7.9 5.4-21.2-5.3-24.3C382.1 2.2 367.3 0 352 0C263.6 0 192 71.6 192 160c0 19.1 3.4 37.5 9.5 54.5L19.9 396.1C7.2 408.8 0 426.1 0 444.1C0 481.6 30.4 512 67.9 512c18 0 35.3-7.2 48-19.9L297.5 310.5c17 6.2 35.4 9.5 54.5 9.5zM80 408a24 24 0 1 1 0 48 24 24 0 1 1 0-48z"/></svg></div><div class="t nw" style="left:38.4px;top:6.05px;font-size:24.51px;color:#f1f2fc;-webkit-text-stroke:0.4px #f1f2fc;transform:scaleY(1.009);transform-origin:0 84.65%;">+1 more</div></div></div><div class="b" style="left:2417.96px;top:1341.4px;width:139.12px;height:184.2px;background:#5161ef;border-radius:4px;overflow:hidden;"><div class="t nw" style="left:10.09px;top:16.49px;font-size:38.4px;font-weight:700;color:#f1f2fc;-webkit-text-stroke:0.35px #5161ef;transform:scaleY(1.054);transform-origin:0 84.65%;">Sat A Maternity</div><svg class="b" style="left:10px;top:83.8px;fill:#f1f2fc" width="28.2" height="32.3" viewBox="0 0 448 512"><path d="M224 256A128 128 0 1 0 224 0a128 128 0 1 0 0 256zm-45.7 48C79.8 304 0 383.8 0 482.3C0 498.7 13.3 512 29.7 512H418.3c16.4 0 29.7-13.3 29.7-29.7C448 383.8 368.2 304 269.7 304H178.3z"/></svg><div class="t nw" style="left:45.77px;top:84.71px;font-size:32px;color:#f1f2fc;letter-spacing:0.2px;-webkit-text-stroke:0.4px #f1f2fc;transform:scaleY(1.054);transform-origin:0 84.65%;">Carl Rose</div><div class="b" style="left:9.7px;top:133px;width:119.72px;height:41px;overflow:hidden;"><div class="b" style="left:0px;top:0px;width:31px;height:40.8px;background:#8a56c4;border-radius:8.5px;overflow:hidden;"><svg class="b" style="left:15.2px;top:8.7px;fill:#fff" width="24.6" height="24.5" viewBox="0 0 512 512"><path d="M352 320c88.4 0 160-71.6 160-160c0-15.3-2.2-30.1-6.2-44.2c-3.1-10.8-16.4-13.2-24.3-5.3l-76.8 76.8c-3 3-7.1 4.7-11.3 4.7H336c-8.8 0-16-7.2-16-16V118.6c0-4.2 1.7-8.3 4.7-11.3l76.8-76.8c7.9-7.9 5.4-21.2-5.3-24.3C382.1 2.2 367.3 0 352 0C263.6 0 192 71.6 192 160c0 19.1 3.4 37.5 9.5 54.5L19.9 396.1C7.2 408.8 0 426.1 0 444.1C0 481.6 30.4 512 67.9 512c18 0 35.3-7.2 48-19.9L297.5 310.5c17 6.2 35.4 9.5 54.5 9.5zM80 408a24 24 0 1 1 0 48 24 24 0 1 1 0-48z"/></svg></div><div class="t nw" style="left:38.4px;top:6.05px;font-size:24.51px;color:#f1f2fc;-webkit-text-stroke:0.4px #f1f2fc;transform:scaleY(1.009);transform-origin:0 84.65%;">+1 more</div></div></div><div class="b" style="left:2696.2px;top:1137.1px;width:139.12px;height:184.2px;background:#5161ef;border-radius:4px;overflow:hidden;"><div class="t nw" style="left:10.09px;top:16.49px;font-size:38.4px;font-weight:700;color:#f1f2fc;-webkit-text-stroke:0.35px #5161ef;transform:scaleY(1.054);transform-origin:0 84.65%;">Sun M Maternity</div><svg class="b" style="left:10px;top:83.8px;fill:#f1f2fc" width="28.2" height="32.3" viewBox="0 0 448 512"><path d="M224 256A128 128 0 1 0 224 0a128 128 0 1 0 0 256zm-45.7 48C79.8 304 0 383.8 0 482.3C0 498.7 13.3 512 29.7 512H418.3c16.4 0 29.7-13.3 29.7-29.7C448 383.8 368.2 304 269.7 304H178.3z"/></svg><div class="t nw" style="left:44.77px;top:84.71px;font-size:32px;color:#f1f2fc;letter-spacing:0.2px;-webkit-text-stroke:0.4px #f1f2fc;transform:scaleY(1.054);transform-origin:0 84.65%;">Lucy Zhao</div><div class="b" style="left:9.7px;top:133px;width:119.72px;height:41px;overflow:hidden;"><div class="b" style="left:0px;top:0px;width:31px;height:40.8px;background:#8a56c4;border-radius:8.5px;overflow:hidden;"><svg class="b" style="left:15.2px;top:8.7px;fill:#fff" width="24.6" height="24.5" viewBox="0 0 512 512"><path d="M352 320c88.4 0 160-71.6 160-160c0-15.3-2.2-30.1-6.2-44.2c-3.1-10.8-16.4-13.2-24.3-5.3l-76.8 76.8c-3 3-7.1 4.7-11.3 4.7H336c-8.8 0-16-7.2-16-16V118.6c0-4.2 1.7-8.3 4.7-11.3l76.8-76.8c7.9-7.9 5.4-21.2-5.3-24.3C382.1 2.2 367.3 0 352 0C263.6 0 192 71.6 192 160c0 19.1 3.4 37.5 9.5 54.5L19.9 396.1C7.2 408.8 0 426.1 0 444.1C0 481.6 30.4 512 67.9 512c18 0 35.3-7.2 48-19.9L297.5 310.5c17 6.2 35.4 9.5 54.5 9.5zM80 408a24 24 0 1 1 0 48 24 24 0 1 1 0-48z"/></svg></div><div class="t nw" style="left:38.4px;top:6.05px;font-size:24.51px;color:#f1f2fc;-webkit-text-stroke:0.4px #f1f2fc;transform:scaleY(1.009);transform-origin:0 84.65%;">+1 more</div></div></div><div class="b" style="left:2696.2px;top:1341.4px;width:139.12px;height:184.2px;background:#5161ef;border-radius:4px;overflow:hidden;"><div class="t nw" style="left:10.09px;top:16.49px;font-size:38.4px;font-weight:700;color:#f1f2fc;-webkit-text-stroke:0.35px #5161ef;transform:scaleY(1.054);transform-origin:0 84.65%;">Sun M Maternity</div><svg class="b" style="left:10px;top:83.8px;fill:#f1f2fc" width="28.2" height="32.3" viewBox="0 0 448 512"><path d="M224 256A128 128 0 1 0 224 0a128 128 0 1 0 0 256zm-45.7 48C79.8 304 0 383.8 0 482.3C0 498.7 13.3 512 29.7 512H418.3c16.4 0 29.7-13.3 29.7-29.7C448 383.8 368.2 304 269.7 304H178.3z"/></svg><div class="t nw" style="left:44.77px;top:84.71px;font-size:32px;color:#f1f2fc;letter-spacing:0.2px;-webkit-text-stroke:0.4px #f1f2fc;transform:scaleY(1.054);transform-origin:0 84.65%;">Dan Green</div><div class="b" style="left:9.7px;top:133px;width:119.72px;height:41px;overflow:hidden;"><div class="b" style="left:0px;top:0px;width:31px;height:40.8px;background:#8a56c4;border-radius:8.5px;overflow:hidden;"><svg class="b" style="left:15.2px;top:8.7px;fill:#fff" width="24.6" height="24.5" viewBox="0 0 512 512"><path d="M352 320c88.4 0 160-71.6 160-160c0-15.3-2.2-30.1-6.2-44.2c-3.1-10.8-16.4-13.2-24.3-5.3l-76.8 76.8c-3 3-7.1 4.7-11.3 4.7H336c-8.8 0-16-7.2-16-16V118.6c0-4.2 1.7-8.3 4.7-11.3l76.8-76.8c7.9-7.9 5.4-21.2-5.3-24.3C382.1 2.2 367.3 0 352 0C263.6 0 192 71.6 192 160c0 19.1 3.4 37.5 9.5 54.5L19.9 396.1C7.2 408.8 0 426.1 0 444.1C0 481.6 30.4 512 67.9 512c18 0 35.3-7.2 48-19.9L297.5 310.5c17 6.2 35.4 9.5 54.5 9.5zM80 408a24 24 0 1 1 0 48 24 24 0 1 1 0-48z"/></svg></div><div class="t nw" style="left:38.4px;top:6.05px;font-size:24.51px;color:#f1f2fc;-webkit-text-stroke:0.4px #f1f2fc;transform:scaleY(1.009);transform-origin:0 84.65%;">+1 more</div></div></div></div></div>
<div class="b" style="left:1688px;top:1232.1px;width:384.1px;height:253.1px;background:#e9ebfd;border-radius:7px;box-shadow:6px 6px 21px rgba(0,0,0,.2);"><div class="t" style="left:16.29px;top:19.45px;font-size:24.29px;font-family:'DejaVu Sans',sans-serif;color:#11131c;transform:scaleY(1.01);transform-origin:0 84.6%;">Wed N Maternity</div><div class="t" style="left:14.15px;top:62.41px;font-size:29.06px;font-family:'DejaVu Sans',sans-serif;color:#11131c;transform:scaleY(0.95);transform-origin:0 84.6%;">Priority:</div><div class="t" style="left:140.96px;top:63.57px;font-size:27.7px;font-family:'DejaVu Sans',sans-serif;color:#11131c;">1</div><div class="t" style="left:16.92px;top:120.4px;font-size:25.41px;font-family:'DejaVu Sans',sans-serif;color:#11131c;letter-spacing:0.54px;transform:scaleY(0.93);transform-origin:0 84.6%;">Start:</div><div class="t" style="left:93.34px;top:120.4px;font-size:25.41px;font-family:'DejaVu Sans',sans-serif;color:#11131c;letter-spacing:0.16px;transform:scaleY(0.93);transform-origin:0 84.6%;">2026-01-28 22:00:00</div><div class="t" style="left:16.71px;top:154.1px;font-size:25.41px;font-family:'DejaVu Sans',sans-serif;color:#11131c;letter-spacing:0.73px;transform:scaleY(0.93);transform-origin:0 84.6%;">End:</div><div class="t" style="left:93.34px;top:154.1px;font-size:25.41px;font-family:'DejaVu Sans',sans-serif;color:#11131c;letter-spacing:0.16px;transform:scaleY(0.93);transform-origin:0 84.6%;">2026-01-29 06:00:00</div><div class="b" style="left:16.1px;top:200.2px;width:155.7px;height:36.5px;background:#8a56c4;border-radius:8.5px;"><svg class="b" style="left:13.5px;top:8.4px;fill:#fff" width="21.5" height="21.5" viewBox="0 0 512 512"><path d="M352 320c88.4 0 160-71.6 160-160c0-15.3-2.2-30.1-6.2-44.2c-3.1-10.8-16.4-13.2-24.3-5.3l-76.8 76.8c-3 3-7.1 4.7-11.3 4.7H336c-8.8 0-16-7.2-16-16V118.6c0-4.2 1.7-8.3 4.7-11.3l76.8-76.8c7.9-7.9 5.4-21.2-5.3-24.3C382.1 2.2 367.3 0 352 0C263.6 0 192 71.6 192 160c0 19.1 3.4 37.5 9.5 54.5L19.9 396.1C7.2 408.8 0 426.1 0 444.1C0 481.6 30.4 512 67.9 512c18 0 35.3-7.2 48-19.9L297.5 310.5c17 6.2 35.4 9.5 54.5 9.5zM80 408a24 24 0 1 1 0 48 24 24 0 1 1 0-48z"/></svg></div><div class="t" style="left:57.53px;top:207.98px;font-size:21.07px;font-family:'DejaVu Sans',sans-serif;color:#fff;transform:scaleY(1.008);transform-origin:0 84.6%;">Maternity</div><div class="b" style="left:178px;top:200.2px;width:109.8px;height:36.5px;background:#8c8c8c;border-radius:8.5px;"><svg class="b" style="left:13.5px;top:9px;fill:#000" width="19" height="19" viewBox="0 0 512 512"><path d="M0 252.118V48C0 21.49 21.49 0 48 0h204.118a48 48 0 0 1 33.941 14.059l211.882 211.882c18.745 18.745 18.745 49.137 0 67.882L293.823 497.941c-18.745 18.745-49.137 18.745-67.882 0L14.059 286.059A48 48 0 0 1 0 252.118zM112 64c-26.51 0-48 21.49-48 48s21.49 48 48 48 48-21.49 48-48-21.49-48-48-48z"/></svg></div><div class="t" style="left:217.38px;top:207.56px;font-size:21.56px;font-family:'DejaVu Sans',sans-serif;color:#000;transform:scaleY(0.985);transform-origin:0 84.6%;">Night</div></div>
<div class="b" style="left:3218px;top:298px;width:622px;height:167.5px;background:#f0faf5;"></div>
<svg class="b" style="left:3309.3px;top:365.3px;" width="33.6" height="33.6" viewBox="0 0 34 34"><circle cx="17" cy="17" r="15.200" fill="none" stroke="#1cc466" stroke-width="3.400"/><path d="M17 10.200v13.600M11.100 13.600l11.800 6.800M22.900 13.600l-11.800 6.800" stroke="#1cc466" stroke-width="3.300" fill="none"/></svg>
<div class="t" style="left:3357.49px;top:366.23px;font-size:33.16px;color:#1cc466;-webkit-text-stroke:0.9px #1cc466;transform:scaleY(1.017);transform-origin:0 84.65%;">Solving completed</div>
<div class="b" style="left:3310px;top:513.9px;width:63.2px;height:48px;background:#f1f1fb;border-radius:11px 0 0 11px;"></div>
<div class="t" style="left:3324.81px;top:525.55px;font-size:24.87px;color:#8d90b8;-webkit-text-stroke:0.4px #8d90b8;transform:scaleY(0.958);transform-origin:0 84.65%;">14s</div>
<div class="b" style="left:3376.9px;top:513.9px;width:52.1px;height:48px;background:#effaf4;"></div>
<div class="t" style="left:3393.3px;top:524.93px;font-size:25.6px;color:#1cc466;letter-spacing:0.58px;-webkit-text-stroke:0.4px #1cc466;transform:scaleY(0.93);transform-origin:0 84.65%;">0s</div>
<div class="b" style="left:3433px;top:513.9px;width:48px;height:48px;background:#1cc466;"></div>
<div class="t" style="left:3447.36px;top:526.15px;font-size:24.16px;color:#fff;-webkit-text-stroke:0.4px #fff;transform:scaleY(0.986);transform-origin:0 84.65%;">1s</div>
<div class="b" style="left:3485px;top:513.9px;width:267px;height:48px;background:#1cc466;border-radius:0 11px 11px 0;"></div>
<div class="t" style="left:3660.96px;top:525.03px;font-size:25.48px;color:#fff;-webkit-text-stroke:0.4px #fff;transform:scaleY(0.934);transform-origin:0 84.65%;">1m 39s</div>
<div class="t" style="left:3305.36px;top:598.99px;font-size:23.64px;color:#66758f;-webkit-text-stroke:0.9px #66758f;transform:scaleY(1.046);transform-origin:0 84.65%;">DATE ADDED</div>
<div class="t" style="left:3306.78px;top:642.39px;font-size:33.09px;color:#11131c;-webkit-text-stroke:0.4px #11131c;transform:scaleY(1.019);transform-origin:0 84.65%;">Jan 22nd 2026, 16:44:00</div>
<div class="b" style="left:3218px;top:730px;width:622px;height:2px;background:#e2e2e2;"></div>
<div class="t" style="left:3307.45px;top:789.64px;font-size:23.81px;color:#8d90b8;-webkit-text-stroke:0.6px #8d90b8;transform:scaleY(1.039);transform-origin:0 84.65%;">ASSIGNED SHIFTS</div>
<div class="b" style="left:3531.2px;top:789px;width:20px;height:20px;background:#8d90b8;border-radius:10px;"></div><div class="t" style="left:3537.08px;top:792.77px;font-size:13.5px;font-weight:700;color:#fff;transform:scaleY(1.054);transform-origin:0 84.65%;">?</div>
<div class="t" style="left:3304.15px;top:830.33px;font-size:50.46px;font-family:'Liberation Mono',monospace;color:#11131c;-webkit-text-stroke:0.6px #11131c;transform:scaleY(0.973);transform-origin:0 76.65%;">53</div>
<div class="b" style="left:3380.1px;top:833.2px;width:44.7px;height:39.5px;background:#efeff6;border-radius:8px;"></div>
<div class="t" style="left:3387.27px;top:842.22px;font-size:25.03px;font-family:'Liberation Mono',monospace;color:#8d90b8;-webkit-text-stroke:0.4px #8d90b8;transform:scaleY(1.061);transform-origin:0 76.65%;">−1</div>
<div class="t" style="left:3305.64px;top:925.56px;font-size:24.14px;color:#8d90b8;-webkit-text-stroke:0.6px #8d90b8;transform:scaleY(1.024);transform-origin:0 84.65%;">UNASSIGNED SHIFTS</div>
<div class="b" style="left:3567px;top:925.2px;width:20px;height:20px;background:#8d90b8;border-radius:10px;"></div><div class="t" style="left:3572.88px;top:928.97px;font-size:13.5px;font-weight:700;color:#fff;transform:scaleY(1.054);transform-origin:0 84.65%;">?</div>
<div class="t" style="left:3303.59px;top:965.9px;font-size:51.27px;font-family:'Liberation Mono',monospace;color:#11131c;-webkit-text-stroke:0.6px #11131c;transform:scaleY(0.958);transform-origin:0 76.65%;">12</div>
<div class="b" style="left:3380.1px;top:969.4px;width:44.7px;height:39.5px;background:#efeff6;border-radius:8px;"></div>
<div class="t" style="left:3387.28px;top:978.42px;font-size:25.02px;font-family:'Liberation Mono',monospace;color:#8d90b8;-webkit-text-stroke:0.4px #8d90b8;transform:scaleY(1.061);transform-origin:0 76.65%;">+1</div>
<div class="t" style="left:3307.4px;top:1061.88px;font-size:23.66px;color:#8d90b8;-webkit-text-stroke:0.6px #8d90b8;transform:scaleY(1.045);transform-origin:0 84.65%;">WORKING TIME FAIRNESS</div>
<div class="b" style="left:3619.9px;top:1061.1px;width:20px;height:20px;background:#8d90b8;border-radius:10px;"></div><div class="t" style="left:3625.78px;top:1064.87px;font-size:13.5px;font-weight:700;color:#fff;transform:scaleY(1.054);transform-origin:0 84.65%;">?</div>
<div class="t" style="left:3303.93px;top:1103.58px;font-size:48.95px;font-family:'Liberation Mono',monospace;color:#11131c;-webkit-text-stroke:0.6px #11131c;">98.21%</div>
<div class="b" style="left:3495.2px;top:1105.3px;width:102.6px;height:39.5px;background:#efeff6;border-radius:8px;"></div>
<div class="t" style="left:3502.43px;top:1114.97px;font-size:24.18px;font-family:'Liberation Mono',monospace;color:#8d90b8;-webkit-text-stroke:0.4px #8d90b8;transform:scaleY(1.098);transform-origin:0 76.65%;">+0.07%</div>
<div class="t" style="left:3305.57px;top:1198.05px;font-size:23.57px;color:#8d90b8;-webkit-text-stroke:0.6px #8d90b8;transform:scaleY(1.049);transform-origin:0 84.65%;">DISRUPTION PERCENTAGE</div>
<div class="b" style="left:3629px;top:1197.2px;width:20px;height:20px;background:#8d90b8;border-radius:10px;"></div><div class="t" style="left:3634.88px;top:1200.97px;font-size:13.5px;font-weight:700;color:#fff;transform:scaleY(1.054);transform-origin:0 84.65%;">?</div>
<div class="t" style="left:3304.29px;top:1239.08px;font-size:49.73px;font-family:'Liberation Mono',monospace;color:#11131c;-webkit-text-stroke:0.6px #11131c;transform:scaleY(0.987);transform-origin:0 76.65%;">0%</div>
<div class="t" style="left:3307.45px;top:1334.04px;font-size:23.46px;color:#8d90b8;-webkit-text-stroke:0.6px #8d90b8;transform:scaleY(1.054);transform-origin:0 84.65%;">AVERAGE DURATION OF EMPLOYEES'</div>
<div class="t" style="left:3305.6px;top:1374.1px;font-size:23.16px;color:#8d90b8;-webkit-text-stroke:0.6px #8d90b8;transform:scaleY(1.068);transform-origin:0 84.65%;">PREFERENCES MET</div>
<div class="b" style="left:3544.1px;top:1373px;width:20px;height:20px;background:#8d90b8;border-radius:10px;"></div><div class="t" style="left:3549.98px;top:1376.77px;font-size:13.5px;font-weight:700;color:#fff;transform:scaleY(1.054);transform-origin:0 84.65%;">?</div>
<div class="t" style="left:3304.23px;top:1415.91px;font-size:49.04px;font-family:'Liberation Mono',monospace;color:#11131c;-webkit-text-stroke:0.6px #11131c;">5h 05m</div>
<div class="b" style="left:3495.2px;top:1417px;width:117.2px;height:39.5px;background:#efeff6;border-radius:8px;"></div>
<div class="t" style="left:3502.42px;top:1426.47px;font-size:24.43px;font-family:'Liberation Mono',monospace;color:#8d90b8;-webkit-text-stroke:0.4px #8d90b8;transform:scaleY(1.086);transform-origin:0 76.65%;">+1h 27m</div>
<div class="t" style="left:3305.33px;top:1520.38px;font-size:32.39px;color:#3e00ff;-webkit-text-stroke:0.4px #3e00ff;transform:scaleY(1.041);transform-origin:0 84.65%;">Show all</div>
<svg class="b" style="left:3446px;top:1524px;" width="32" height="26" viewBox="0 0 32 26"><path d="M5.500 7l10.500 10.500L26.500 7" fill="none" stroke="#3e00ff" stroke-width="3.200" stroke-linecap="round" stroke-linejoin="round"/></svg>
<div class="b" style="left:3218px;top:1620px;width:622px;height:2px;background:#e2e2e2;"></div>
<div class="t" style="left:3306.79px;top:1675.6px;font-size:22.68px;color:#66758f;-webkit-text-stroke:0.9px #66758f;transform:scaleY(1.09);transform-origin:0 84.65%;">TAGS</div>
<div class="b" style="left:3306.6px;top:1710.8px;width:308.1px;height:53.5px;background:#fff;border:2px solid #d5b6f6;border-radius:9px;box-sizing:border-box;"></div>
<div class="t" style="left:3322.25px;top:1720.62px;font-size:33.89px;color:#3e00ff;-webkit-text-stroke:0.45px #3e00ff;transform:scaleY(0.942);transform-origin:0 84.65%;">what-if-scenario</div>
<svg class="b" style="left:3574.9px;top:1729px;" width="18.6" height="18.6" viewBox="0 0 20 20"><path d="M1.500 1.500l17 17M18.500 1.500l-17 17" stroke="#3e00ff" stroke-width="3.01" stroke-linecap="round"/></svg>
<div class="b" style="left:3306.6px;top:1781.6px;width:215.6px;height:53.9px;background:#fff;border:2px solid #d5b6f6;border-radius:9px;box-sizing:border-box;"></div>
<div class="t" style="left:3321.28px;top:1792.69px;font-size:32.98px;color:#3e00ff;-webkit-text-stroke:0.45px #3e00ff;transform:scaleY(0.968);transform-origin:0 84.65%;">simulation</div>
<svg class="b" style="left:3484px;top:1799.8px;" width="18.6" height="18.6" viewBox="0 0 20 20"><path d="M1.500 1.500l17 17M18.500 1.500l-17 17" stroke="#3e00ff" stroke-width="3.01" stroke-linecap="round"/></svg>
<div class="b" style="left:3306.6px;top:1852.7px;width:444.7px;height:86.7px;background:#fff;border:2px solid #d5b6f6;border-radius:9px;box-sizing:border-box;"></div>
<div class="t" style="left:3321.26px;top:1863.17px;font-size:33.7px;color:#3e00ff;-webkit-text-stroke:0.45px #3e00ff;transform:scaleY(0.947);transform-origin:0 84.65%;">scheduling-intelligence-</div>
<div class="t" style="left:3320.77px;top:1894.45px;font-size:33.96px;color:#3e00ff;-webkit-text-stroke:0.45px #3e00ff;transform:scaleY(0.94);transform-origin:0 84.65%;">demo-v4</div>
<svg class="b" style="left:3717.25px;top:1888.85px;" width="14.9" height="14.9" viewBox="0 0 20 20"><path d="M1.500 1.500l17 17M18.500 1.500l-17 17" stroke="#3e00ff" stroke-width="3.76" stroke-linecap="round"/></svg>
<svg class="b" style="left:3319.8px;top:1969.9px;" width="20.6" height="20.6" viewBox="0 0 22 22"><path d="M11 1.500v19M1.500 11h19" stroke="#3e00ff" stroke-width="3" stroke-linecap="round"/></svg>
<div class="t" style="left:3304.87px;top:2041.17px;font-size:23.54px;color:#66758f;-webkit-text-stroke:0.9px #66758f;transform:scaleY(1.051);transform-origin:0 84.65%;">MOVE SPEED</div>
<div class="t" style="left:3305.34px;top:2084.19px;font-size:32.62px;color:#11131c;-webkit-text-stroke:0.4px #11131c;transform:scaleY(1.034);transform-origin:0 84.65%;">6,001 calc/sec</div>
</div>
<script>(function(){var w=window.innerWidth||3840;if(Math.abs(w-3840)>2){var z=w/3840,d=document,r=d.getElementById("root"),hh=Math.round(2160*z)+"px";r.style.transformOrigin="0 0";r.style.transform="scale("+z+")";d.documentElement.style.width=d.body.style.width=w+"px";d.documentElement.style.height=d.body.style.height=hh;}})();</script>
</body></html>
